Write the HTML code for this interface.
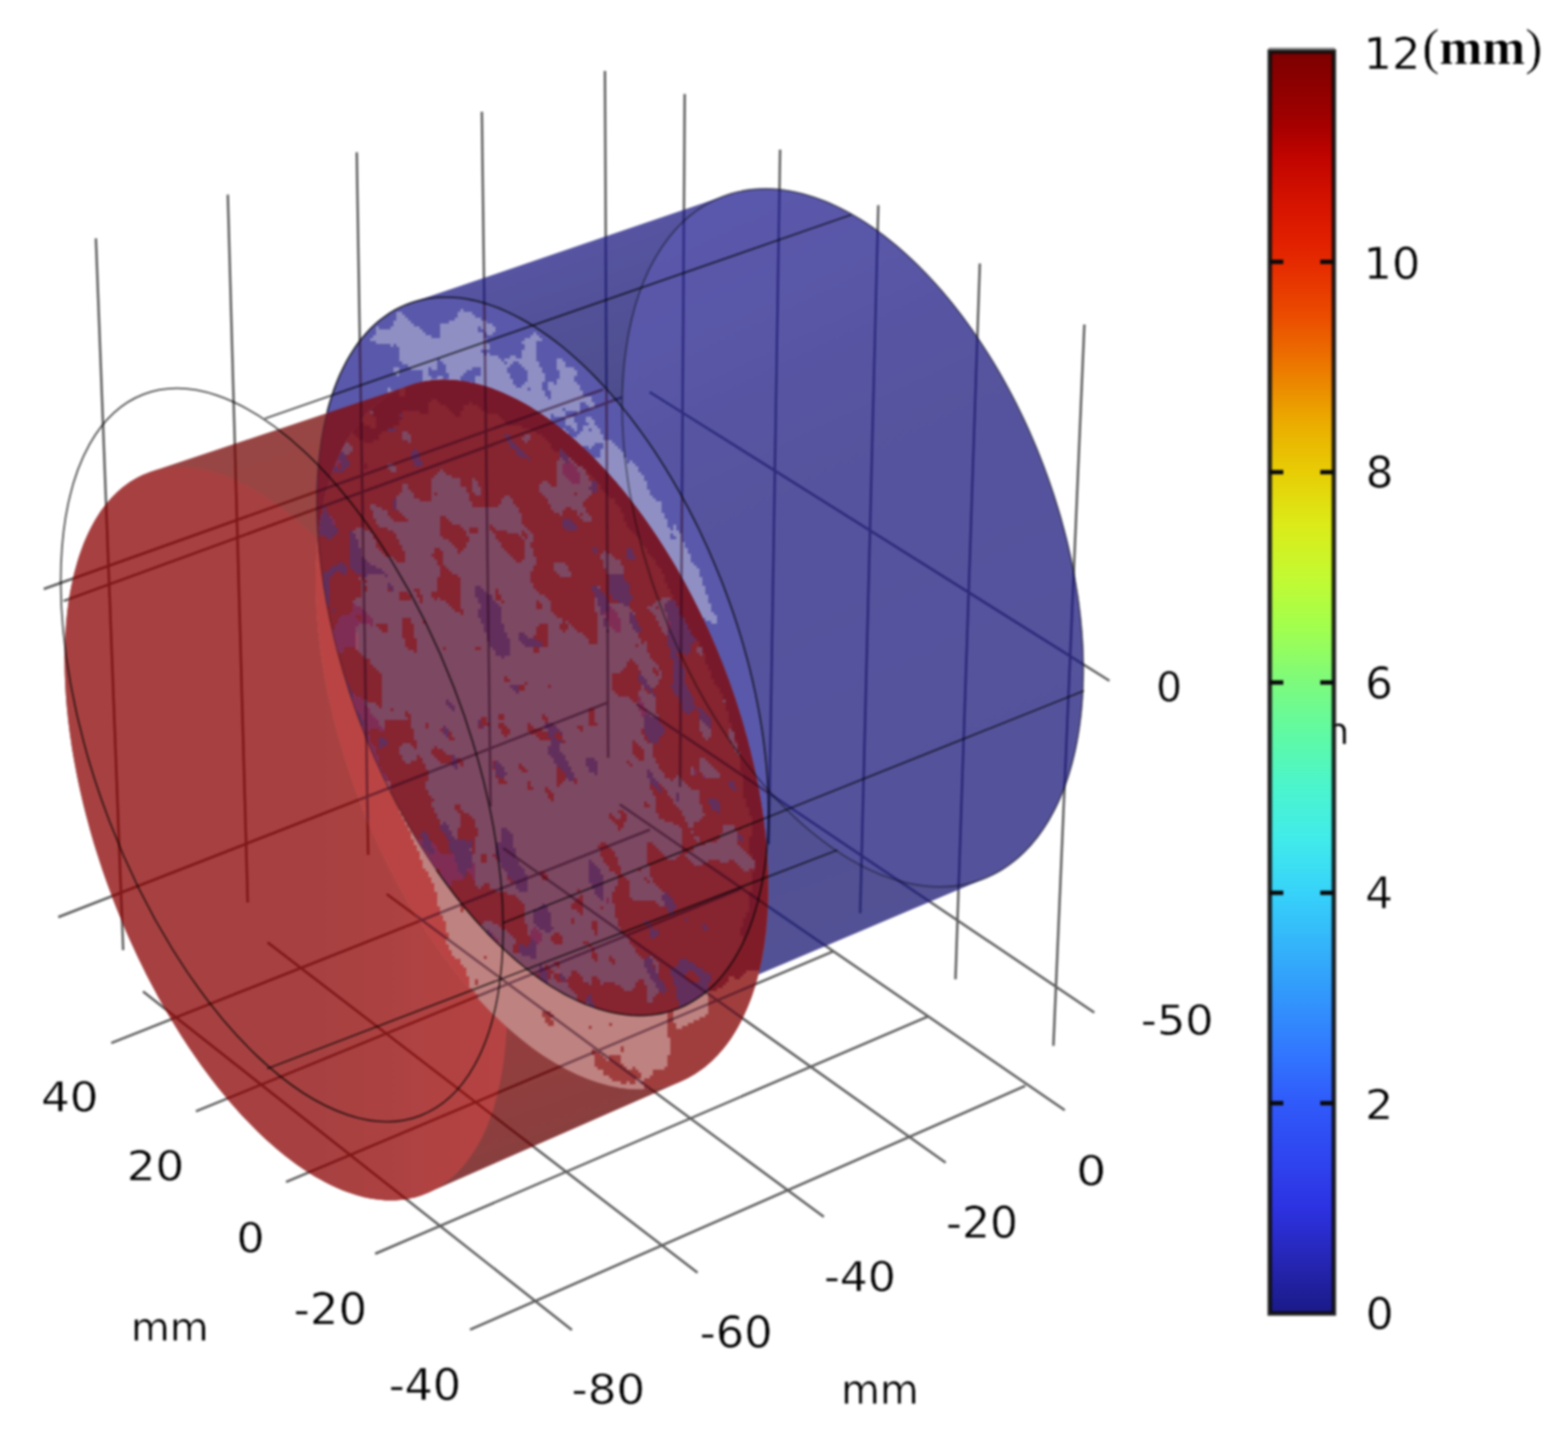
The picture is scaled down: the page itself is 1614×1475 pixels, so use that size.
<!DOCTYPE html>
<html lang="en"><head><meta charset="utf-8"><title>Displacement plot</title>
<style>html,body{margin:0;padding:0;background:#fff}svg{display:block}</style>
</head><body>
<svg width="1614" height="1475" viewBox="0 0 1614 1475">
<defs>
<clipPath id="cEb"><ellipse cx="558.5" cy="675.6" rx="388.4" ry="199.8" transform="rotate(-110.90 558.5 675.6)" /></clipPath>
<clipPath id="cEr"><ellipse cx="557.8" cy="756.2" rx="384.5" ry="199.7" transform="rotate(-111.40 557.8 756.2)" /></clipPath>
<clipPath id="cRed"><path d="M66.5,677.5 L66.6,671.7 L66.7,666.0 L66.9,660.4 L67.2,654.8 L67.5,649.3 L67.9,643.8 L68.4,638.4 L68.9,633.1 L69.5,627.9 L70.2,622.7 L70.9,617.6 L71.7,612.5 L72.6,607.6 L73.5,602.7 L74.6,597.9 L75.6,593.1 L76.8,588.5 L78.0,583.9 L79.3,579.4 L80.6,575.0 L82.0,570.7 L83.5,566.5 L85.0,562.4 L86.6,558.3 L88.3,554.4 L90.0,550.5 L91.8,546.7 L93.7,543.0 L95.6,539.5 L97.5,536.0 L99.6,532.6 L101.7,529.3 L103.8,526.1 L106.0,523.1 L108.3,520.1 L110.6,517.2 L113.0,514.4 L115.4,511.8 L117.9,509.2 L120.4,506.7 L123.0,504.4 L125.7,502.1 L128.4,500.0 L131.1,498.0 L133.9,496.1 L136.8,494.3 L139.7,492.6 L142.6,491.0 L145.6,489.5 L148.6,488.2 L151.7,486.9 L154.8,485.8 L424.1,395.9 L427.4,394.9 L430.8,394.0 L434.2,393.2 L437.7,392.6 L441.2,392.0 L444.7,391.6 L448.3,391.2 L451.9,391.0 L455.6,390.9 L459.2,390.9 L462.9,391.0 L466.7,391.2 L470.4,391.5 L474.2,392.0 L478.0,392.5 L481.8,393.2 L485.7,394.0 L489.6,394.9 L493.5,395.9 L497.4,397.0 L501.3,398.2 L505.3,399.5 L509.2,401.0 L513.2,402.5 L517.2,404.1 L521.2,405.9 L525.2,407.8 L529.3,409.7 L533.3,411.8 L537.4,414.0 L541.4,416.3 L545.5,418.7 L549.5,421.2 L553.6,423.7 L557.7,426.4 L561.7,429.2 L565.8,432.1 L569.8,435.1 L573.9,438.2 L578.0,441.4 L582.0,444.7 L586.0,448.1 L590.1,451.5 L594.1,455.1 L598.1,458.8 L602.1,462.5 L606.1,466.3 L610.1,470.3 L614.0,474.3 L617.9,478.4 L621.9,482.6 L625.8,486.8 L629.6,491.2 L633.5,495.6 L637.3,500.1 L641.1,504.7 L644.9,509.4 L648.7,514.1 L652.4,518.9 L656.1,523.8 L659.8,528.8 L663.4,533.8 L667.0,538.9 L670.6,544.0 L674.1,549.2 L677.6,554.5 L681.1,559.9 L684.5,565.3 L687.9,570.8 L691.3,576.3 L694.6,581.9 L697.9,587.5 L701.1,593.2 L704.3,598.9 L707.4,604.7 L710.5,610.5 L713.5,616.4 L716.5,622.3 L719.5,628.2 L722.4,634.2 L725.2,640.2 L728.0,646.3 L730.8,652.4 L733.5,658.5 L736.1,664.7 L738.7,670.9 L741.3,677.1 L743.7,683.3 L746.2,689.6 L748.5,695.9 L750.8,702.2 L753.1,708.5 L755.3,714.8 L757.4,721.2 L759.4,727.5 L761.4,733.9 L763.4,740.2 L765.3,746.6 L767.1,753.0 L768.8,759.4 L770.5,765.7 L772.1,772.1 L773.7,778.5 L775.2,784.8 L776.6,791.2 L778.0,797.5 L779.3,803.9 L780.5,810.2 L781.7,816.5 L782.7,822.7 L783.8,829.0 L784.7,835.2 L785.6,841.5 L786.4,847.6 L787.2,853.8 L787.8,859.9 L788.4,866.0 L789.0,872.1 L789.4,878.1 L789.8,884.1 L790.1,890.1 L790.4,896.0 L790.6,901.8 L790.7,907.7 L790.7,913.5 L790.7,919.2 L790.6,924.9 L790.4,930.5 L790.2,936.1 L789.9,941.6 L789.5,947.1 L789.0,952.5 L788.5,957.8 L787.9,963.1 L787.2,968.3 L786.5,973.5 L785.7,978.6 L784.8,983.6 L783.8,988.6 L782.8,993.4 L781.7,998.3 L780.6,1003.0 L779.4,1007.7 L778.1,1012.2 L776.7,1016.8 L775.3,1021.2 L773.8,1025.5 L772.3,1029.8 L770.6,1034.0 L769.0,1038.1 L767.2,1042.1 L765.4,1046.0 L763.5,1049.9 L761.6,1053.6 L759.6,1057.3 L757.5,1060.8 L755.4,1064.3 L753.2,1067.7 L751.0,1071.0 L748.7,1074.2 L746.3,1077.2 L743.9,1080.2 L741.4,1083.1 L738.9,1085.9 L736.3,1088.6 L733.7,1091.2 L731.0,1093.7 L728.3,1096.1 L725.5,1098.4 L722.6,1100.6 L719.7,1102.6 L716.8,1104.6 L713.8,1106.5 L710.7,1108.2 L707.6,1109.9 L704.5,1111.4 L701.3,1112.9 L439.8,1228.0 L436.7,1229.3 L433.6,1230.4 L430.4,1231.4 L427.2,1232.4 L424.0,1233.1 L420.7,1233.8 L417.3,1234.4 L414.0,1234.8 L410.6,1235.2 L407.2,1235.4 L403.7,1235.5 L400.2,1235.5 L396.7,1235.4 L393.1,1235.1 L389.5,1234.8 L385.9,1234.3 L382.2,1233.7 L378.5,1233.0 L374.8,1232.2 L371.1,1231.3 L367.4,1230.2 L363.6,1229.1 L359.8,1227.8 L356.0,1226.4 L352.1,1224.9 L348.3,1223.3 L344.4,1221.6 L340.5,1219.8 L336.6,1217.8 L332.7,1215.8 L328.8,1213.6 L324.9,1211.4 L320.9,1209.0 L317.0,1206.5 L313.0,1203.9 L309.1,1201.3 L305.1,1198.5 L301.1,1195.6 L297.2,1192.6 L293.2,1189.5 L289.2,1186.3 L285.2,1183.0 L281.3,1179.6 L277.3,1176.1 L273.3,1172.5 L269.4,1168.8 L265.4,1165.0 L261.5,1161.1 L257.6,1157.1 L253.7,1153.1 L249.8,1148.9 L245.9,1144.7 L242.0,1140.3 L238.1,1135.9 L234.3,1131.4 L230.5,1126.8 L226.7,1122.2 L222.9,1117.4 L219.1,1112.6 L215.4,1107.7 L211.7,1102.7 L208.0,1097.7 L204.3,1092.5 L200.7,1087.3 L197.1,1082.1 L193.5,1076.7 L189.9,1071.3 L186.4,1065.9 L182.9,1060.3 L179.5,1054.8 L176.1,1049.1 L172.7,1043.4 L169.4,1037.6 L166.1,1031.8 L162.8,1025.9 L159.6,1020.0 L156.4,1014.0 L153.2,1008.0 L150.1,1001.9 L147.1,995.8 L144.1,989.7 L141.1,983.5 L138.2,977.3 L135.3,971.0 L132.5,964.7 L129.7,958.4 L127.0,952.0 L124.3,945.6 L121.7,939.2 L119.1,932.7 L116.6,926.3 L114.2,919.8 L111.8,913.3 L109.4,906.7 L107.1,900.2 L104.9,893.7 L102.7,887.1 L100.6,880.5 L98.5,873.9 L96.5,867.4 L94.6,860.8 L92.7,854.2 L90.9,847.6 L89.1,841.0 L87.4,834.4 L85.8,827.9 L84.2,821.3 L82.7,814.8 L81.3,808.2 L79.9,801.7 L78.6,795.2 L77.4,788.7 L76.2,782.2 L75.1,775.8 L74.0,769.4 L73.1,763.0 L72.1,756.6 L71.3,750.3 L70.5,744.0 L69.8,737.8 L69.2,731.5 L68.6,725.3 L68.1,719.2 L67.7,713.1 L67.3,707.0 L67.0,701.0 L66.8,695.1 L66.6,689.1 L66.6,683.3Z"/></clipPath>
<clipPath id="cErf"><ellipse cx="294.2" cy="858.1" rx="397.6" ry="190.2" transform="rotate(-111.00 294.2 858.1)" /></clipPath>
<clipPath id="cBlue"><path d="M326.0,514.2 L326.1,508.4 L326.2,502.6 L326.5,497.0 L326.7,491.3 L327.1,485.8 L327.5,480.3 L328.0,474.8 L328.5,469.4 L329.2,464.1 L329.9,458.8 L330.6,453.6 L331.5,448.5 L332.4,443.5 L333.4,438.5 L334.4,433.6 L335.5,428.7 L336.7,423.9 L337.9,419.3 L339.3,414.6 L340.6,410.1 L342.1,405.7 L343.6,401.3 L345.2,397.0 L346.8,392.8 L348.5,388.7 L350.3,384.7 L352.1,380.7 L354.0,376.9 L356.0,373.1 L358.0,369.4 L360.1,365.9 L362.3,362.4 L364.5,359.0 L366.7,355.7 L369.0,352.5 L371.4,349.4 L373.9,346.5 L376.4,343.6 L378.9,340.8 L381.5,338.1 L384.2,335.5 L386.9,333.0 L389.6,330.6 L392.4,328.4 L395.3,326.2 L398.2,324.1 L401.2,322.2 L404.2,320.3 L407.3,318.6 L410.4,317.0 L413.5,315.5 L416.7,314.1 L419.9,312.8 L423.2,311.6 L747.7,200.9 L751.2,199.7 L754.7,198.7 L758.3,197.8 L761.9,196.9 L765.5,196.2 L769.2,195.6 L772.9,195.1 L776.6,194.8 L780.4,194.5 L784.2,194.3 L788.0,194.3 L791.9,194.3 L795.7,194.5 L799.6,194.8 L803.6,195.2 L807.5,195.7 L811.5,196.3 L815.5,197.0 L819.5,197.8 L823.5,198.7 L827.5,199.8 L831.6,200.9 L835.7,202.2 L839.8,203.5 L843.9,205.0 L848.0,206.6 L852.1,208.2 L856.2,210.0 L860.3,211.9 L864.5,213.9 L868.6,216.0 L872.7,218.2 L876.9,220.5 L881.0,222.9 L885.2,225.4 L889.3,228.0 L893.4,230.7 L897.6,233.5 L901.7,236.4 L905.8,239.4 L909.9,242.5 L914.0,245.7 L918.1,249.0 L922.2,252.3 L926.3,255.8 L930.3,259.3 L934.3,263.0 L938.4,266.7 L942.4,270.5 L946.3,274.4 L950.3,278.4 L954.2,282.5 L958.1,286.7 L962.0,290.9 L965.9,295.2 L969.7,299.6 L973.5,304.1 L977.3,308.6 L981.1,313.3 L984.8,318.0 L988.5,322.7 L992.1,327.6 L995.7,332.5 L999.3,337.5 L1002.8,342.5 L1006.3,347.6 L1009.8,352.8 L1013.2,358.0 L1016.6,363.3 L1019.9,368.7 L1023.2,374.1 L1026.5,379.5 L1029.7,385.0 L1032.9,390.6 L1036.0,396.2 L1039.0,401.9 L1042.1,407.6 L1045.0,413.3 L1047.9,419.1 L1050.8,425.0 L1053.6,430.8 L1056.4,436.7 L1059.1,442.7 L1061.7,448.7 L1064.3,454.7 L1066.9,460.7 L1069.3,466.8 L1071.8,472.9 L1074.1,479.0 L1076.4,485.2 L1078.7,491.3 L1080.8,497.5 L1082.9,503.7 L1085.0,509.9 L1087.0,516.2 L1088.9,522.4 L1090.8,528.7 L1092.6,534.9 L1094.3,541.2 L1096.0,547.5 L1097.6,553.7 L1099.1,560.0 L1100.6,566.3 L1102.0,572.5 L1103.3,578.8 L1104.6,585.1 L1105.8,591.3 L1106.9,597.5 L1107.9,603.7 L1108.9,609.9 L1109.8,616.1 L1110.7,622.3 L1111.4,628.4 L1112.1,634.6 L1112.8,640.7 L1113.3,646.7 L1113.8,652.8 L1114.2,658.8 L1114.6,664.8 L1114.8,670.7 L1115.0,676.6 L1115.2,682.5 L1115.2,688.3 L1115.2,694.1 L1115.1,699.9 L1114.9,705.6 L1114.7,711.2 L1114.4,716.8 L1114.0,722.4 L1113.6,727.9 L1113.0,733.4 L1112.4,738.8 L1111.8,744.1 L1111.0,749.4 L1110.2,754.6 L1109.3,759.8 L1108.4,764.9 L1107.4,770.0 L1106.3,774.9 L1105.1,779.8 L1103.9,784.7 L1102.6,789.4 L1101.2,794.1 L1099.8,798.8 L1098.3,803.3 L1096.7,807.8 L1095.1,812.2 L1093.4,816.5 L1091.6,820.7 L1089.8,824.9 L1087.9,828.9 L1085.9,832.9 L1083.9,836.8 L1081.8,840.6 L1079.6,844.4 L1077.4,848.0 L1075.1,851.6 L1072.8,855.0 L1070.4,858.4 L1068.0,861.7 L1065.4,864.8 L1062.9,867.9 L1060.3,870.9 L1057.6,873.8 L1054.8,876.6 L1052.1,879.3 L1049.2,881.9 L1046.3,884.4 L1043.4,886.8 L1040.4,889.1 L1037.3,891.3 L1034.2,893.4 L1031.1,895.4 L1027.9,897.3 L1024.7,899.0 L1021.4,900.7 L1018.1,902.3 L1014.7,903.7 L700.3,1037.1 L697.1,1038.4 L693.8,1039.6 L690.5,1040.7 L687.1,1041.7 L683.7,1042.5 L680.3,1043.3 L676.8,1043.9 L673.3,1044.4 L669.7,1044.8 L666.2,1045.1 L662.5,1045.3 L658.9,1045.4 L655.2,1045.3 L651.5,1045.2 L647.8,1044.9 L644.0,1044.5 L640.2,1044.0 L636.4,1043.4 L632.6,1042.7 L628.7,1041.9 L624.9,1040.9 L621.0,1039.9 L617.0,1038.7 L613.1,1037.5 L609.2,1036.1 L605.2,1034.6 L601.2,1033.0 L597.2,1031.3 L593.2,1029.4 L589.2,1027.5 L585.2,1025.5 L581.1,1023.3 L577.1,1021.1 L573.0,1018.7 L569.0,1016.3 L564.9,1013.7 L560.9,1011.0 L556.8,1008.3 L552.8,1005.4 L548.7,1002.4 L544.7,999.4 L540.6,996.2 L536.6,992.9 L532.5,989.6 L528.5,986.1 L524.5,982.6 L520.5,978.9 L516.5,975.2 L512.5,971.4 L508.5,967.4 L504.6,963.4 L500.6,959.3 L496.7,955.2 L492.8,950.9 L488.9,946.5 L485.1,942.1 L481.2,937.6 L477.4,933.0 L473.6,928.3 L469.9,923.6 L466.1,918.7 L462.4,913.9 L458.7,908.9 L455.1,903.8 L451.5,898.7 L447.9,893.5 L444.3,888.3 L440.8,883.0 L437.3,877.6 L433.9,872.2 L430.5,866.7 L427.1,861.1 L423.8,855.5 L420.5,849.8 L417.3,844.1 L414.1,838.4 L410.9,832.5 L407.8,826.7 L404.7,820.8 L401.7,814.8 L398.7,808.8 L395.8,802.8 L392.9,796.7 L390.1,790.6 L387.4,784.4 L384.6,778.2 L382.0,772.0 L379.4,765.8 L376.8,759.5 L374.3,753.2 L371.8,746.9 L369.5,740.5 L367.1,734.2 L364.9,727.8 L362.6,721.4 L360.5,715.0 L358.4,708.6 L356.4,702.1 L354.4,695.7 L352.5,689.2 L350.6,682.8 L348.8,676.3 L347.1,669.9 L345.5,663.4 L343.9,657.0 L342.3,650.5 L340.9,644.1 L339.5,637.7 L338.2,631.3 L336.9,624.9 L335.7,618.5 L334.6,612.1 L333.5,605.8 L332.5,599.4 L331.6,593.1 L330.8,586.9 L330.0,580.6 L329.3,574.4 L328.6,568.2 L328.1,562.0 L327.6,555.9 L327.1,549.8 L326.8,543.8 L326.5,537.8 L326.3,531.8 L326.1,525.9 L326.1,520.0Z"/></clipPath>
<linearGradient id="gBlue" gradientUnits="userSpaceOnUse" x1="740" y1="230" x2="1040" y2="860"><stop offset="0" stop-color="rgb(45,42,149)"/><stop offset="0.35" stop-color="rgb(40,37,133)"/><stop offset="1" stop-color="rgb(37,34,127)"/></linearGradient><linearGradient id="gBlueWall" gradientUnits="userSpaceOnUse" x1="449" y1="305" x2="701.2" y2="1023.6"><stop offset="0" stop-color="rgb(40,38,136)"/><stop offset="0.06" stop-color="rgb(36,34,127)"/><stop offset="0.21" stop-color="rgb(28,28,110)"/><stop offset="0.8" stop-color="rgb(33,32,118)"/><stop offset="1" stop-color="rgb(36,33,120)"/></linearGradient><linearGradient id="gRed" gradientUnits="userSpaceOnUse" x1="330" y1="0" x2="525" y2="0"><stop offset="0" stop-color="rgb(143,13,13)"/><stop offset="1" stop-color="rgb(163,15,15)"/></linearGradient><linearGradient id="gWall" gradientUnits="userSpaceOnUse" x1="300" y1="450" x2="560" y2="1180"><stop offset="0" stop-color="rgb(124,19,17)"/><stop offset="0.3" stop-color="rgb(126,15,13)"/><stop offset="0.75" stop-color="rgb(128,8,8)"/><stop offset="1" stop-color="rgb(105,10,10)"/></linearGradient><linearGradient id="gDred" gradientUnits="userSpaceOnUse" x1="400" y1="0" x2="800" y2="0"><stop offset="0" stop-color="rgb(140,40,70)"/><stop offset="0.15" stop-color="rgb(165,62,62)"/><stop offset="0.75" stop-color="rgb(160,60,60)"/><stop offset="0.9" stop-color="rgb(128,28,40)"/></linearGradient>
<filter id="soft" filterUnits="userSpaceOnUse" x="0" y="0" width="1614" height="1475" color-interpolation-filters="sRGB"><feGaussianBlur stdDeviation="0.9"/></filter>
</defs>
<rect width="1614" height="1475" fill="#fff"/>
<g filter="url(#soft)">
<rect width="1614" height="1475" fill="#fff"/>
<path d="M98.7,245.4 L126.8,978 M234.5,200.4 L255,929 M367.2,156.8 L379,880 M496,115 L505,830 M622.7,73 L626,780 M704.8,96.8 L700,810 M803,154 L791.3,869 M904.1,211.2 L885.4,940 M1008.6,271.2 L983.5,1008 M1116.2,334 L1084.3,1076.5 M45,606.3 L621,400.7 M60,944 L626,723 M668.6,403.5 L1142,700.8 M655,724.5 L1126.4,1042.2 M114.5,1073.6 L669,854 M201.7,1143.9 L762,915 M294.4,1216.7 L857.4,979.4 M386.2,1290.5 L955,1046.3 M483.8,1368.6 L1055.4,1117.7 M147.2,1020.4 L588.7,1369 M275.4,970 L718,1310 M398,920.3 L848,1252.6 M518,873 L973.4,1196.8 M638,828 L1096,1142.8 M65.4,618.6 L640,409" stroke="#5e5e5e" stroke-width="2.5" fill="none"/>
<g opacity="0.78">
<path d="M326.0,514.2 L326.1,508.4 L326.2,502.6 L326.5,497.0 L326.7,491.3 L327.1,485.8 L327.5,480.3 L328.0,474.8 L328.5,469.4 L329.2,464.1 L329.9,458.8 L330.6,453.6 L331.5,448.5 L332.4,443.5 L333.4,438.5 L334.4,433.6 L335.5,428.7 L336.7,423.9 L337.9,419.3 L339.3,414.6 L340.6,410.1 L342.1,405.7 L343.6,401.3 L345.2,397.0 L346.8,392.8 L348.5,388.7 L350.3,384.7 L352.1,380.7 L354.0,376.9 L356.0,373.1 L358.0,369.4 L360.1,365.9 L362.3,362.4 L364.5,359.0 L366.7,355.7 L369.0,352.5 L371.4,349.4 L373.9,346.5 L376.4,343.6 L378.9,340.8 L381.5,338.1 L384.2,335.5 L386.9,333.0 L389.6,330.6 L392.4,328.4 L395.3,326.2 L398.2,324.1 L401.2,322.2 L404.2,320.3 L407.3,318.6 L410.4,317.0 L413.5,315.5 L416.7,314.1 L419.9,312.8 L423.2,311.6 L747.7,200.9 L751.2,199.7 L754.7,198.7 L758.3,197.8 L761.9,196.9 L765.5,196.2 L769.2,195.6 L772.9,195.1 L776.6,194.8 L780.4,194.5 L784.2,194.3 L788.0,194.3 L791.9,194.3 L795.7,194.5 L799.6,194.8 L803.6,195.2 L807.5,195.7 L811.5,196.3 L815.5,197.0 L819.5,197.8 L823.5,198.7 L827.5,199.8 L831.6,200.9 L835.7,202.2 L839.8,203.5 L843.9,205.0 L848.0,206.6 L852.1,208.2 L856.2,210.0 L860.3,211.9 L864.5,213.9 L868.6,216.0 L872.7,218.2 L876.9,220.5 L881.0,222.9 L885.2,225.4 L889.3,228.0 L893.4,230.7 L897.6,233.5 L901.7,236.4 L905.8,239.4 L909.9,242.5 L914.0,245.7 L918.1,249.0 L922.2,252.3 L926.3,255.8 L930.3,259.3 L934.3,263.0 L938.4,266.7 L942.4,270.5 L946.3,274.4 L950.3,278.4 L954.2,282.5 L958.1,286.7 L962.0,290.9 L965.9,295.2 L969.7,299.6 L973.5,304.1 L977.3,308.6 L981.1,313.3 L984.8,318.0 L988.5,322.7 L992.1,327.6 L995.7,332.5 L999.3,337.5 L1002.8,342.5 L1006.3,347.6 L1009.8,352.8 L1013.2,358.0 L1016.6,363.3 L1019.9,368.7 L1023.2,374.1 L1026.5,379.5 L1029.7,385.0 L1032.9,390.6 L1036.0,396.2 L1039.0,401.9 L1042.1,407.6 L1045.0,413.3 L1047.9,419.1 L1050.8,425.0 L1053.6,430.8 L1056.4,436.7 L1059.1,442.7 L1061.7,448.7 L1064.3,454.7 L1066.9,460.7 L1069.3,466.8 L1071.8,472.9 L1074.1,479.0 L1076.4,485.2 L1078.7,491.3 L1080.8,497.5 L1082.9,503.7 L1085.0,509.9 L1087.0,516.2 L1088.9,522.4 L1090.8,528.7 L1092.6,534.9 L1094.3,541.2 L1096.0,547.5 L1097.6,553.7 L1099.1,560.0 L1100.6,566.3 L1102.0,572.5 L1103.3,578.8 L1104.6,585.1 L1105.8,591.3 L1106.9,597.5 L1107.9,603.7 L1108.9,609.9 L1109.8,616.1 L1110.7,622.3 L1111.4,628.4 L1112.1,634.6 L1112.8,640.7 L1113.3,646.7 L1113.8,652.8 L1114.2,658.8 L1114.6,664.8 L1114.8,670.7 L1115.0,676.6 L1115.2,682.5 L1115.2,688.3 L1115.2,694.1 L1115.1,699.9 L1114.9,705.6 L1114.7,711.2 L1114.4,716.8 L1114.0,722.4 L1113.6,727.9 L1113.0,733.4 L1112.4,738.8 L1111.8,744.1 L1111.0,749.4 L1110.2,754.6 L1109.3,759.8 L1108.4,764.9 L1107.4,770.0 L1106.3,774.9 L1105.1,779.8 L1103.9,784.7 L1102.6,789.4 L1101.2,794.1 L1099.8,798.8 L1098.3,803.3 L1096.7,807.8 L1095.1,812.2 L1093.4,816.5 L1091.6,820.7 L1089.8,824.9 L1087.9,828.9 L1085.9,832.9 L1083.9,836.8 L1081.8,840.6 L1079.6,844.4 L1077.4,848.0 L1075.1,851.6 L1072.8,855.0 L1070.4,858.4 L1068.0,861.7 L1065.4,864.8 L1062.9,867.9 L1060.3,870.9 L1057.6,873.8 L1054.8,876.6 L1052.1,879.3 L1049.2,881.9 L1046.3,884.4 L1043.4,886.8 L1040.4,889.1 L1037.3,891.3 L1034.2,893.4 L1031.1,895.4 L1027.9,897.3 L1024.7,899.0 L1021.4,900.7 L1018.1,902.3 L1014.7,903.7 L700.3,1037.1 L697.1,1038.4 L693.8,1039.6 L690.5,1040.7 L687.1,1041.7 L683.7,1042.5 L680.3,1043.3 L676.8,1043.9 L673.3,1044.4 L669.7,1044.8 L666.2,1045.1 L662.5,1045.3 L658.9,1045.4 L655.2,1045.3 L651.5,1045.2 L647.8,1044.9 L644.0,1044.5 L640.2,1044.0 L636.4,1043.4 L632.6,1042.7 L628.7,1041.9 L624.9,1040.9 L621.0,1039.9 L617.0,1038.7 L613.1,1037.5 L609.2,1036.1 L605.2,1034.6 L601.2,1033.0 L597.2,1031.3 L593.2,1029.4 L589.2,1027.5 L585.2,1025.5 L581.1,1023.3 L577.1,1021.1 L573.0,1018.7 L569.0,1016.3 L564.9,1013.7 L560.9,1011.0 L556.8,1008.3 L552.8,1005.4 L548.7,1002.4 L544.7,999.4 L540.6,996.2 L536.6,992.9 L532.5,989.6 L528.5,986.1 L524.5,982.6 L520.5,978.9 L516.5,975.2 L512.5,971.4 L508.5,967.4 L504.6,963.4 L500.6,959.3 L496.7,955.2 L492.8,950.9 L488.9,946.5 L485.1,942.1 L481.2,937.6 L477.4,933.0 L473.6,928.3 L469.9,923.6 L466.1,918.7 L462.4,913.9 L458.7,908.9 L455.1,903.8 L451.5,898.7 L447.9,893.5 L444.3,888.3 L440.8,883.0 L437.3,877.6 L433.9,872.2 L430.5,866.7 L427.1,861.1 L423.8,855.5 L420.5,849.8 L417.3,844.1 L414.1,838.4 L410.9,832.5 L407.8,826.7 L404.7,820.8 L401.7,814.8 L398.7,808.8 L395.8,802.8 L392.9,796.7 L390.1,790.6 L387.4,784.4 L384.6,778.2 L382.0,772.0 L379.4,765.8 L376.8,759.5 L374.3,753.2 L371.8,746.9 L369.5,740.5 L367.1,734.2 L364.9,727.8 L362.6,721.4 L360.5,715.0 L358.4,708.6 L356.4,702.1 L354.4,695.7 L352.5,689.2 L350.6,682.8 L348.8,676.3 L347.1,669.9 L345.5,663.4 L343.9,657.0 L342.3,650.5 L340.9,644.1 L339.5,637.7 L338.2,631.3 L336.9,624.9 L335.7,618.5 L334.6,612.1 L333.5,605.8 L332.5,599.4 L331.6,593.1 L330.8,586.9 L330.0,580.6 L329.3,574.4 L328.6,568.2 L328.1,562.0 L327.6,555.9 L327.1,549.8 L326.8,543.8 L326.5,537.8 L326.3,531.8 L326.1,525.9 L326.1,520.0Z" fill="url(#gBlueWall)"/>
<path d="M744.3,202.1 L749.5,200.3 L754.7,198.7 L760.1,197.3 L765.5,196.2 L771.0,195.4 L776.6,194.8 L782.3,194.4 L788.0,194.3 L793.8,194.4 L799.6,194.8 L805.5,195.4 L811.5,196.3 L817.5,197.4 L823.5,198.7 L829.6,200.3 L835.7,202.2 L841.8,204.2 L848.0,206.6 L854.1,209.1 L860.3,211.9 L866.5,214.9 L872.7,218.2 L879.0,221.7 L885.2,225.4 L891.4,229.3 L897.6,233.5 L903.8,237.9 L909.9,242.5 L916.1,247.3 L922.2,252.3 L928.3,257.6 L934.3,263.0 L940.4,268.6 L946.3,274.4 L952.3,280.5 L958.1,286.7 L964.0,293.1 L969.7,299.6 L975.4,306.4 L981.1,313.3 L986.6,320.3 L992.1,327.6 L997.5,335.0 L1002.8,342.5 L1008.1,350.2 L1013.2,358.0 L1018.3,366.0 L1023.2,374.1 L1028.1,382.3 L1032.9,390.6 L1037.5,399.0 L1042.1,407.6 L1046.5,416.2 L1050.8,425.0 L1055.0,433.8 L1059.1,442.7 L1063.0,451.7 L1066.9,460.7 L1070.6,469.9 L1074.1,479.0 L1077.5,488.3 L1080.8,497.5 L1084.0,506.8 L1087.0,516.2 L1089.9,525.5 L1092.6,534.9 L1095.2,544.3 L1097.6,553.7 L1099.9,563.1 L1102.0,572.5 L1104.0,581.9 L1105.8,591.3 L1107.4,600.6 L1108.9,609.9 L1110.3,619.2 L1111.4,628.4 L1112.5,637.6 L1113.3,646.7 L1114.0,655.8 L1114.6,664.8 L1114.9,673.7 L1115.2,682.5 L1115.2,691.2 L1115.1,699.9 L1114.8,708.4 L1114.4,716.8 L1113.8,725.2 L1113.0,733.4 L1112.1,741.5 L1111.0,749.4 L1109.8,757.2 L1108.4,764.9 L1106.8,772.4 L1105.1,779.8 L1103.2,787.1 L1101.2,794.1 L1099.0,801.0 L1096.7,807.8 L1094.2,814.3 L1091.6,820.7 L1088.8,826.9 L1085.9,832.9 L1082.8,838.7 L1079.6,844.4 L1076.3,849.8 L1072.8,855.0 L1069.2,860.0 L1065.4,864.8 L1061.6,869.4 L1057.6,873.8 L1053.5,878.0 L1049.2,881.9 L1044.9,885.6 L1040.4,889.1 L1035.8,892.4 L1031.1,895.4 L1026.3,898.2 L1021.4,900.7 L1016.4,903.0 L1011.3,905.1 L1006.1,906.9 L1000.9,908.5 L995.5,909.9 L990.1,911.0 L984.6,911.8 L979.0,912.4 L973.3,912.8 L967.6,912.9 L961.8,912.8 L956.0,912.4 L950.1,911.8 L944.1,910.9 L938.1,909.8 L932.1,908.5 L926.0,906.9 L919.9,905.0 L913.8,903.0 L907.6,900.6 L901.5,898.1 L895.3,895.3 L889.1,892.3 L882.9,889.0 L876.6,885.5 L870.4,881.8 L864.2,877.9 L858.0,873.7 L851.8,869.3 L845.7,864.7 L839.5,859.9 L833.4,854.9 L827.3,849.6 L821.3,844.2 L815.2,838.6 L809.3,832.8 L803.3,826.7 L797.5,820.5 L791.6,814.1 L785.9,807.6 L780.2,800.8 L774.5,793.9 L769.0,786.9 L763.5,779.6 L758.1,772.2 L752.8,764.7 L747.5,757.0 L742.4,749.2 L737.3,741.2 L732.4,733.1 L727.5,724.9 L722.7,716.6 L718.1,708.2 L713.5,699.6 L709.1,691.0 L704.8,682.2 L700.6,673.4 L696.5,664.5 L692.6,655.5 L688.7,646.5 L685.0,637.3 L681.5,628.2 L678.1,618.9 L674.8,609.7 L671.6,600.4 L668.6,591.0 L665.7,581.7 L663.0,572.3 L660.4,562.9 L658.0,553.5 L655.7,544.1 L653.6,534.7 L651.6,525.3 L649.8,515.9 L648.2,506.6 L646.7,497.3 L645.3,488.0 L644.2,478.8 L643.1,469.6 L642.3,460.5 L641.6,451.4 L641.0,442.4 L640.7,433.5 L640.4,424.7 L640.4,416.0 L640.5,407.3 L640.8,398.8 L641.2,390.4 L641.8,382.0 L642.6,373.8 L643.5,365.7 L644.6,357.8 L645.8,350.0 L647.2,342.3 L648.8,334.8 L650.5,327.4 L652.4,320.1 L654.4,313.1 L656.6,306.2 L658.9,299.4 L661.4,292.9 L664.0,286.5 L666.8,280.3 L669.7,274.3 L672.8,268.5 L676.0,262.8 L679.3,257.4 L682.8,252.2 L686.4,247.2 L690.2,242.4 L694.0,237.8 L698.0,233.4 L702.1,229.2 L706.4,225.3 L710.7,221.6 L715.2,218.1 L719.8,214.8 L724.5,211.8 L729.3,209.0 L734.2,206.5 L739.2,204.2Z" fill="url(#gBlue)"/>

<path d="M66.5,677.5 L66.6,671.7 L66.7,666.0 L66.9,660.4 L67.2,654.8 L67.5,649.3 L67.9,643.8 L68.4,638.4 L68.9,633.1 L69.5,627.9 L70.2,622.7 L70.9,617.6 L71.7,612.5 L72.6,607.6 L73.5,602.7 L74.6,597.9 L75.6,593.1 L76.8,588.5 L78.0,583.9 L79.3,579.4 L80.6,575.0 L82.0,570.7 L83.5,566.5 L85.0,562.4 L86.6,558.3 L88.3,554.4 L90.0,550.5 L91.8,546.7 L93.7,543.0 L95.6,539.5 L97.5,536.0 L99.6,532.6 L101.7,529.3 L103.8,526.1 L106.0,523.1 L108.3,520.1 L110.6,517.2 L113.0,514.4 L115.4,511.8 L117.9,509.2 L120.4,506.7 L123.0,504.4 L125.7,502.1 L128.4,500.0 L131.1,498.0 L133.9,496.1 L136.8,494.3 L139.7,492.6 L142.6,491.0 L145.6,489.5 L148.6,488.2 L151.7,486.9 L154.8,485.8 L424.1,395.9 L427.4,394.9 L430.8,394.0 L434.2,393.2 L437.7,392.6 L441.2,392.0 L444.7,391.6 L448.3,391.2 L451.9,391.0 L455.6,390.9 L459.2,390.9 L462.9,391.0 L466.7,391.2 L470.4,391.5 L474.2,392.0 L478.0,392.5 L481.8,393.2 L485.7,394.0 L489.6,394.9 L493.5,395.9 L497.4,397.0 L501.3,398.2 L505.3,399.5 L509.2,401.0 L513.2,402.5 L517.2,404.1 L521.2,405.9 L525.2,407.8 L529.3,409.7 L533.3,411.8 L537.4,414.0 L541.4,416.3 L545.5,418.7 L549.5,421.2 L553.6,423.7 L557.7,426.4 L561.7,429.2 L565.8,432.1 L569.8,435.1 L573.9,438.2 L578.0,441.4 L582.0,444.7 L586.0,448.1 L590.1,451.5 L594.1,455.1 L598.1,458.8 L602.1,462.5 L606.1,466.3 L610.1,470.3 L614.0,474.3 L617.9,478.4 L621.9,482.6 L625.8,486.8 L629.6,491.2 L633.5,495.6 L637.3,500.1 L641.1,504.7 L644.9,509.4 L648.7,514.1 L652.4,518.9 L656.1,523.8 L659.8,528.8 L663.4,533.8 L667.0,538.9 L670.6,544.0 L674.1,549.2 L677.6,554.5 L681.1,559.9 L684.5,565.3 L687.9,570.8 L691.3,576.3 L694.6,581.9 L697.9,587.5 L701.1,593.2 L704.3,598.9 L707.4,604.7 L710.5,610.5 L713.5,616.4 L716.5,622.3 L719.5,628.2 L722.4,634.2 L725.2,640.2 L728.0,646.3 L730.8,652.4 L733.5,658.5 L736.1,664.7 L738.7,670.9 L741.3,677.1 L743.7,683.3 L746.2,689.6 L748.5,695.9 L750.8,702.2 L753.1,708.5 L755.3,714.8 L757.4,721.2 L759.4,727.5 L761.4,733.9 L763.4,740.2 L765.3,746.6 L767.1,753.0 L768.8,759.4 L770.5,765.7 L772.1,772.1 L773.7,778.5 L775.2,784.8 L776.6,791.2 L778.0,797.5 L779.3,803.9 L780.5,810.2 L781.7,816.5 L782.7,822.7 L783.8,829.0 L784.7,835.2 L785.6,841.5 L786.4,847.6 L787.2,853.8 L787.8,859.9 L788.4,866.0 L789.0,872.1 L789.4,878.1 L789.8,884.1 L790.1,890.1 L790.4,896.0 L790.6,901.8 L790.7,907.7 L790.7,913.5 L790.7,919.2 L790.6,924.9 L790.4,930.5 L790.2,936.1 L789.9,941.6 L789.5,947.1 L789.0,952.5 L788.5,957.8 L787.9,963.1 L787.2,968.3 L786.5,973.5 L785.7,978.6 L784.8,983.6 L783.8,988.6 L782.8,993.4 L781.7,998.3 L780.6,1003.0 L779.4,1007.7 L778.1,1012.2 L776.7,1016.8 L775.3,1021.2 L773.8,1025.5 L772.3,1029.8 L770.6,1034.0 L769.0,1038.1 L767.2,1042.1 L765.4,1046.0 L763.5,1049.9 L761.6,1053.6 L759.6,1057.3 L757.5,1060.8 L755.4,1064.3 L753.2,1067.7 L751.0,1071.0 L748.7,1074.2 L746.3,1077.2 L743.9,1080.2 L741.4,1083.1 L738.9,1085.9 L736.3,1088.6 L733.7,1091.2 L731.0,1093.7 L728.3,1096.1 L725.5,1098.4 L722.6,1100.6 L719.7,1102.6 L716.8,1104.6 L713.8,1106.5 L710.7,1108.2 L707.6,1109.9 L704.5,1111.4 L701.3,1112.9 L439.8,1228.0 L436.7,1229.3 L433.6,1230.4 L430.4,1231.4 L427.2,1232.4 L424.0,1233.1 L420.7,1233.8 L417.3,1234.4 L414.0,1234.8 L410.6,1235.2 L407.2,1235.4 L403.7,1235.5 L400.2,1235.5 L396.7,1235.4 L393.1,1235.1 L389.5,1234.8 L385.9,1234.3 L382.2,1233.7 L378.5,1233.0 L374.8,1232.2 L371.1,1231.3 L367.4,1230.2 L363.6,1229.1 L359.8,1227.8 L356.0,1226.4 L352.1,1224.9 L348.3,1223.3 L344.4,1221.6 L340.5,1219.8 L336.6,1217.8 L332.7,1215.8 L328.8,1213.6 L324.9,1211.4 L320.9,1209.0 L317.0,1206.5 L313.0,1203.9 L309.1,1201.3 L305.1,1198.5 L301.1,1195.6 L297.2,1192.6 L293.2,1189.5 L289.2,1186.3 L285.2,1183.0 L281.3,1179.6 L277.3,1176.1 L273.3,1172.5 L269.4,1168.8 L265.4,1165.0 L261.5,1161.1 L257.6,1157.1 L253.7,1153.1 L249.8,1148.9 L245.9,1144.7 L242.0,1140.3 L238.1,1135.9 L234.3,1131.4 L230.5,1126.8 L226.7,1122.2 L222.9,1117.4 L219.1,1112.6 L215.4,1107.7 L211.7,1102.7 L208.0,1097.7 L204.3,1092.5 L200.7,1087.3 L197.1,1082.1 L193.5,1076.7 L189.9,1071.3 L186.4,1065.9 L182.9,1060.3 L179.5,1054.8 L176.1,1049.1 L172.7,1043.4 L169.4,1037.6 L166.1,1031.8 L162.8,1025.9 L159.6,1020.0 L156.4,1014.0 L153.2,1008.0 L150.1,1001.9 L147.1,995.8 L144.1,989.7 L141.1,983.5 L138.2,977.3 L135.3,971.0 L132.5,964.7 L129.7,958.4 L127.0,952.0 L124.3,945.6 L121.7,939.2 L119.1,932.7 L116.6,926.3 L114.2,919.8 L111.8,913.3 L109.4,906.7 L107.1,900.2 L104.9,893.7 L102.7,887.1 L100.6,880.5 L98.5,873.9 L96.5,867.4 L94.6,860.8 L92.7,854.2 L90.9,847.6 L89.1,841.0 L87.4,834.4 L85.8,827.9 L84.2,821.3 L82.7,814.8 L81.3,808.2 L79.9,801.7 L78.6,795.2 L77.4,788.7 L76.2,782.2 L75.1,775.8 L74.0,769.4 L73.1,763.0 L72.1,756.6 L71.3,750.3 L70.5,744.0 L69.8,737.8 L69.2,731.5 L68.6,725.3 L68.1,719.2 L67.7,713.1 L67.3,707.0 L67.0,701.0 L66.8,695.1 L66.6,689.1 L66.6,683.3Z" fill="url(#gWall)"/>
<path d="M151.7,486.9 L156.4,485.3 L161.2,483.8 L166.1,482.7 L171.1,481.8 L176.1,481.2 L181.2,480.8 L186.5,480.7 L191.7,480.8 L197.1,481.3 L202.5,481.9 L208.0,482.8 L213.6,484.0 L219.2,485.4 L224.8,487.1 L230.5,489.1 L236.3,491.3 L242.0,493.7 L247.9,496.4 L253.7,499.4 L259.6,502.6 L265.5,506.0 L271.4,509.7 L277.3,513.6 L283.3,517.7 L289.3,522.1 L295.2,526.7 L301.2,531.6 L307.1,536.6 L313.1,541.9 L319.0,547.4 L324.9,553.1 L330.8,559.1 L336.7,565.2 L342.5,571.5 L348.3,578.1 L354.1,584.8 L359.8,591.7 L365.5,598.8 L371.2,606.0 L376.7,613.5 L382.3,621.1 L387.7,628.9 L393.1,636.8 L398.5,644.9 L403.7,653.1 L408.9,661.4 L414.0,669.9 L419.0,678.6 L424.0,687.3 L428.8,696.2 L433.6,705.2 L438.3,714.3 L442.8,723.4 L447.3,732.7 L451.6,742.1 L455.9,751.5 L460.0,761.0 L464.1,770.6 L468.0,780.2 L471.8,789.9 L475.4,799.7 L479.0,809.5 L482.4,819.3 L485.7,829.1 L488.8,839.0 L491.9,848.8 L494.8,858.7 L497.5,868.6 L500.1,878.5 L502.6,888.3 L504.9,898.2 L507.1,908.0 L509.1,917.8 L511.0,927.5 L512.8,937.2 L514.4,946.8 L515.8,956.4 L517.1,965.9 L518.2,975.3 L519.2,984.7 L520.1,993.9 L520.7,1003.1 L521.2,1012.2 L521.6,1021.1 L521.8,1030.0 L521.9,1038.7 L521.8,1047.3 L521.5,1055.8 L521.1,1064.2 L520.5,1072.4 L519.8,1080.4 L518.9,1088.3 L517.9,1096.1 L516.7,1103.7 L515.3,1111.1 L513.8,1118.3 L512.2,1125.4 L510.4,1132.3 L508.5,1139.0 L506.4,1145.5 L504.1,1151.8 L501.8,1157.9 L499.3,1163.8 L496.6,1169.5 L493.8,1175.0 L490.9,1180.2 L487.8,1185.2 L484.6,1190.1 L481.3,1194.6 L477.8,1199.0 L474.2,1203.1 L470.5,1207.0 L466.7,1210.7 L462.7,1214.1 L458.6,1217.2 L454.5,1220.1 L450.2,1222.8 L445.8,1225.2 L441.3,1227.4 L436.7,1229.3 L432.0,1230.9 L427.2,1232.4 L422.3,1233.5 L417.3,1234.4 L412.3,1235.0 L407.2,1235.4 L401.9,1235.5 L396.7,1235.4 L391.3,1234.9 L385.9,1234.3 L380.4,1233.4 L374.8,1232.2 L369.2,1230.8 L363.6,1229.1 L357.9,1227.1 L352.1,1224.9 L346.4,1222.5 L340.5,1219.8 L334.7,1216.8 L328.8,1213.6 L322.9,1210.2 L317.0,1206.5 L311.1,1202.6 L305.1,1198.5 L299.1,1194.1 L293.2,1189.5 L287.2,1184.6 L281.3,1179.6 L275.3,1174.3 L269.4,1168.8 L263.5,1163.1 L257.6,1157.1 L251.7,1151.0 L245.9,1144.7 L240.1,1138.1 L234.3,1131.4 L228.6,1124.5 L222.9,1117.4 L217.2,1110.2 L211.7,1102.7 L206.1,1095.1 L200.7,1087.3 L195.3,1079.4 L189.9,1071.3 L184.7,1063.1 L179.5,1054.8 L174.4,1046.3 L169.4,1037.6 L164.4,1028.9 L159.6,1020.0 L154.8,1011.0 L150.1,1001.9 L145.6,992.8 L141.1,983.5 L136.8,974.1 L132.5,964.7 L128.4,955.2 L124.3,945.6 L120.4,936.0 L116.6,926.3 L113.0,916.5 L109.4,906.7 L106.0,896.9 L102.7,887.1 L99.6,877.2 L96.5,867.4 L93.6,857.5 L90.9,847.6 L88.3,837.7 L85.8,827.9 L83.5,818.0 L81.3,808.2 L79.3,798.4 L77.4,788.7 L75.6,779.0 L74.0,769.4 L72.6,759.8 L71.3,750.3 L70.2,740.9 L69.2,731.5 L68.3,722.3 L67.7,713.1 L67.2,704.0 L66.8,695.1 L66.6,686.2 L66.5,677.5 L66.6,668.9 L66.9,660.4 L67.3,652.0 L67.9,643.8 L68.6,635.8 L69.5,627.9 L70.5,620.1 L71.7,612.5 L73.1,605.1 L74.6,597.9 L76.2,590.8 L78.0,583.9 L79.9,577.2 L82.0,570.7 L84.3,564.4 L86.6,558.3 L89.1,552.4 L91.8,546.7 L94.6,541.2 L97.5,536.0 L100.6,531.0 L103.8,526.1 L107.1,521.6 L110.6,517.2 L114.2,513.1 L117.9,509.2 L121.7,505.5 L125.7,502.1 L129.8,499.0 L133.9,496.1 L138.2,493.4 L142.6,491.0 L147.1,488.8Z" fill="url(#gRed)"/>

</g>
<g clip-path="url(#cBlue)"><path d="M98.7,245.4 L126.8,978 M234.5,200.4 L255,929 M367.2,156.8 L379,880 M496,115 L505,830 M622.7,73 L626,780 M704.8,96.8 L700,810 M803,154 L791.3,869 M904.1,211.2 L885.4,940 M1008.6,271.2 L983.5,1008 M1116.2,334 L1084.3,1076.5 M45,606.3 L621,400.7 M60,944 L626,723 M668.6,403.5 L1142,700.8 M655,724.5 L1126.4,1042.2 M114.5,1073.6 L669,854 M201.7,1143.9 L762,915 M294.4,1216.7 L857.4,979.4 M386.2,1290.5 L955,1046.3 M483.8,1368.6 L1055.4,1117.7 M147.2,1020.4 L588.7,1369 M275.4,970 L718,1310 M398,920.3 L848,1252.6 M518,873 L973.4,1196.8 M638,828 L1096,1142.8 M65.4,618.6 L640,409" stroke="#15157a" stroke-opacity="0.22" stroke-width="2.5" fill="none"/></g>
<g clip-path="url(#cRed)"><path d="M98.7,245.4 L126.8,978 M234.5,200.4 L255,929 M367.2,156.8 L379,880 M496,115 L505,830 M622.7,73 L626,780 M704.8,96.8 L700,810 M803,154 L791.3,869 M904.1,211.2 L885.4,940 M1008.6,271.2 L983.5,1008 M1116.2,334 L1084.3,1076.5 M45,606.3 L621,400.7 M60,944 L626,723 M668.6,403.5 L1142,700.8 M655,724.5 L1126.4,1042.2 M114.5,1073.6 L669,854 M201.7,1143.9 L762,915 M294.4,1216.7 L857.4,979.4 M386.2,1290.5 L955,1046.3 M483.8,1368.6 L1055.4,1117.7 M147.2,1020.4 L588.7,1369 M275.4,970 L718,1310 M398,920.3 L848,1252.6 M518,873 L973.4,1196.8 M638,828 L1096,1142.8 M65.4,618.6 L640,409" stroke="#6a0000" stroke-opacity="0.22" stroke-width="2.5" fill="none"/></g>
<g id="mottle">
<g clip-path="url(#cEb)"><ellipse cx="558.5" cy="675.6" rx="388.4" ry="199.8" transform="rotate(-110.90 558.5 675.6)" fill="rgb(143,143,195)"/><path d="M145 97h13v1h-13zM141 98h22v1h-22zM138 99h28v1h-28zM136 100h33v1h-33zM134 101h38v1h-38zM132 102h42v1h-42zM130 103h46v1h-46zM129 104h49v1h-49zM128 105h52v1h-52zM128 106h30v1h-30zM159 106h23v1h-23zM128 107h8v1h-8zM138 107h19v1h-19zM162 107h21v1h-21zM125 108h11v1h-11zM139 108h18v1h-18zM163 108h21v1h-21zM124 109h12v1h-12zM140 109h16v1h-16zM165 109h20v1h-20zM123 110h12v1h-12zM141 110h13v1h-13zM167 110h19v1h-19zM122 111h13v1h-13zM142 111h9v1h-9zM169 111h18v1h-18zM121 112h8v1h-8zM130 112h4v1h-4zM144 112h7v1h-7zM164 112h1v1h-1zM170 112h20v1h-20zM120 113h9v1h-9zM145 113h6v1h-6zM164 113h2v1h-2zM170 113h22v1h-22zM120 114h9v1h-9zM146 114h5v1h-5zM166 114h1v1h-1zM169 114h14v1h-14zM184 114h9v1h-9zM119 115h9v1h-9zM148 115h3v1h-3zM166 115h16v1h-16zM185 115h9v1h-9zM118 116h9v1h-9zM167 116h13v1h-13zM186 116h9v1h-9zM118 117h11v1h-11zM167 117h12v1h-12zM184 117h13v1h-13zM117 118h17v1h-17zM135 118h1v1h-1zM168 118h12v1h-12zM184 118h14v1h-14zM116 119h21v1h-21zM168 119h12v1h-12zM184 119h15v1h-15zM116 120h21v1h-21zM165 120h14v1h-14zM184 120h16v1h-16zM115 121h22v1h-22zM166 121h1v1h-1zM168 121h11v1h-11zM184 121h17v1h-17zM115 122h22v1h-22zM171 122h4v1h-4zM177 122h2v1h-2zM184 122h18v1h-18zM114 123h23v1h-23zM150 123h1v1h-1zM172 123h1v1h-1zM184 123h7v1h-7zM193 123h10v1h-10zM114 124h24v1h-24zM150 124h2v1h-2zM173 124h1v1h-1zM176 124h2v1h-2zM185 124h6v1h-6zM194 124h10v1h-10zM113 125h27v1h-27zM150 125h3v1h-3zM175 125h4v1h-4zM185 125h6v1h-6zM194 125h11v1h-11zM113 126h22v1h-22zM137 126h4v1h-4zM147 126h1v1h-1zM150 126h3v1h-3zM162 126h3v1h-3zM174 126h6v1h-6zM186 126h5v1h-5zM197 126h9v1h-9zM113 127h22v1h-22zM137 127h8v1h-8zM147 127h6v1h-6zM160 127h5v1h-5zM174 127h7v1h-7zM186 127h6v1h-6zM198 127h9v1h-9zM112 128h24v1h-24zM137 128h8v1h-8zM147 128h7v1h-7zM159 128h6v1h-6zM175 128h6v1h-6zM187 128h5v1h-5zM198 128h10v1h-10zM112 129h33v1h-33zM148 129h2v1h-2zM152 129h2v1h-2zM158 129h5v1h-5zM175 129h6v1h-6zM187 129h5v1h-5zM197 129h12v1h-12zM112 130h33v1h-33zM158 130h5v1h-5zM176 130h5v1h-5zM187 130h4v1h-4zM197 130h13v1h-13zM111 131h35v1h-35zM159 131h2v1h-2zM162 131h1v1h-1zM176 131h4v1h-4zM186 131h2v1h-2zM190 131h1v1h-1zM198 131h12v1h-12zM111 132h35v1h-35zM159 132h2v1h-2zM177 132h2v1h-2zM186 132h2v1h-2zM199 132h12v1h-12zM111 133h22v1h-22zM134 133h12v1h-12zM151 133h2v1h-2zM160 133h1v1h-1zM181 133h1v1h-1zM186 133h2v1h-2zM199 133h13v1h-13zM110 134h23v1h-23zM139 134h8v1h-8zM151 134h3v1h-3zM157 134h5v1h-5zM167 134h1v1h-1zM187 134h2v1h-2zM200 134h13v1h-13zM110 135h23v1h-23zM139 135h10v1h-10zM159 135h3v1h-3zM166 135h2v1h-2zM187 135h2v1h-2zM200 135h14v1h-14zM110 136h23v1h-23zM140 136h4v1h-4zM165 136h3v1h-3zM188 136h1v1h-1zM203 136h12v1h-12zM109 137h23v1h-23zM140 137h1v1h-1zM168 137h1v1h-1zM203 137h13v1h-13zM109 138h23v1h-23zM199 138h2v1h-2zM204 138h12v1h-12zM109 139h24v1h-24zM179 139h1v1h-1zM199 139h3v1h-3zM204 139h13v1h-13zM109 140h25v1h-25zM176 140h2v1h-2zM193 140h1v1h-1zM199 140h19v1h-19zM108 141h16v1h-16zM129 141h5v1h-5zM177 141h1v1h-1zM194 141h4v1h-4zM199 141h20v1h-20zM108 142h17v1h-17zM130 142h2v1h-2zM189 142h1v1h-1zM194 142h25v1h-25zM108 143h18v1h-18zM130 143h1v1h-1zM189 143h5v1h-5zM197 143h4v1h-4zM203 143h17v1h-17zM108 144h7v1h-7zM116 144h11v1h-11zM188 144h6v1h-6zM197 144h4v1h-4zM204 144h17v1h-17zM108 145h7v1h-7zM116 145h12v1h-12zM189 145h5v1h-5zM198 145h4v1h-4zM204 145h18v1h-18zM107 146h8v1h-8zM117 146h11v1h-11zM189 146h7v1h-7zM198 146h2v1h-2zM205 146h17v1h-17zM107 147h9v1h-9zM117 147h10v1h-10zM190 147h2v1h-2zM194 147h3v1h-3zM198 147h2v1h-2zM202 147h1v1h-1zM206 147h17v1h-17zM107 148h19v1h-19zM195 148h4v1h-4zM206 148h18v1h-18zM107 149h9v1h-9zM118 149h7v1h-7zM195 149h3v1h-3zM207 149h17v1h-17zM107 150h9v1h-9zM119 150h6v1h-6zM207 150h18v1h-18zM107 151h8v1h-8zM120 151h4v1h-4zM210 151h16v1h-16zM107 152h9v1h-9zM121 152h2v1h-2zM204 152h3v1h-3zM211 152h15v1h-15zM106 153h11v1h-11zM122 153h1v1h-1zM200 153h2v1h-2zM203 153h4v1h-4zM212 153h15v1h-15zM106 154h11v1h-11zM200 154h6v1h-6zM213 154h15v1h-15zM106 155h12v1h-12zM200 155h6v1h-6zM214 155h14v1h-14zM106 156h12v1h-12zM201 156h5v1h-5zM214 156h15v1h-15zM106 157h13v1h-13zM215 157h15v1h-15zM106 158h14v1h-14zM215 158h1v1h-1zM217 158h13v1h-13zM106 159h13v1h-13zM218 159h13v1h-13zM106 160h13v1h-13zM219 160h12v1h-12zM106 161h13v1h-13zM219 161h13v1h-13zM106 162h12v1h-12zM220 162h13v1h-13zM106 163h12v1h-12zM221 163h12v1h-12zM106 164h11v1h-11zM221 164h13v1h-13zM106 165h11v1h-11zM222 165h12v1h-12zM106 166h11v1h-11zM222 166h13v1h-13zM106 167h10v1h-10zM222 167h14v1h-14zM106 168h10v1h-10zM223 168h13v1h-13zM106 169h10v1h-10zM223 169h14v1h-14zM106 170h9v1h-9zM224 170h13v1h-13zM106 171h9v1h-9zM225 171h13v1h-13zM106 172h9v1h-9zM227 172h11v1h-11zM106 173h9v1h-9zM227 173h12v1h-12zM106 174h8v1h-8zM227 174h12v1h-12zM106 175h8v1h-8zM227 175h13v1h-13zM106 176h8v1h-8zM228 176h12v1h-12zM106 177h8v1h-8zM228 177h13v1h-13zM106 178h7v1h-7zM229 178h12v1h-12zM106 179h7v1h-7zM229 179h13v1h-13zM106 180h7v1h-7zM219 180h1v1h-1zM229 180h2v1h-2zM232 180h10v1h-10zM106 181h7v1h-7zM220 181h1v1h-1zM230 181h1v1h-1zM232 181h11v1h-11zM106 182h7v1h-7zM233 182h10v1h-10zM106 183h7v1h-7zM230 183h1v1h-1zM234 183h10v1h-10zM106 184h6v1h-6zM230 184h2v1h-2zM234 184h10v1h-10zM106 185h6v1h-6zM234 185h11v1h-11zM106 186h6v1h-6zM235 186h10v1h-10zM106 187h6v1h-6zM235 187h11v1h-11zM107 188h5v1h-5zM236 188h10v1h-10zM107 189h5v1h-5zM236 189h10v1h-10zM107 190h5v1h-5zM237 190h10v1h-10zM107 191h5v1h-5zM237 191h10v1h-10zM107 192h5v1h-5zM237 192h11v1h-11zM107 193h5v1h-5zM238 193h10v1h-10zM107 194h5v1h-5zM239 194h10v1h-10zM107 195h5v1h-5zM240 195h9v1h-9zM108 196h3v1h-3zM240 196h9v1h-9zM109 197h2v1h-2zM240 197h10v1h-10zM110 198h1v1h-1zM241 198h9v1h-9zM109 199h2v1h-2zM241 199h9v1h-9zM109 200h2v1h-2zM241 200h10v1h-10zM109 201h2v1h-2zM242 201h9v1h-9zM108 202h2v1h-2zM242 202h10v1h-10zM109 203h1v1h-1zM242 203h10v1h-10zM109 204h2v1h-2zM243 204h9v1h-9zM109 205h2v1h-2zM243 205h10v1h-10zM109 206h2v1h-2zM243 206h10v1h-10zM109 207h3v1h-3zM244 207h9v1h-9zM110 208h2v1h-2zM244 208h10v1h-10zM110 209h2v1h-2zM244 209h10v1h-10zM110 210h2v1h-2zM245 210h9v1h-9zM110 211h2v1h-2zM246 211h9v1h-9zM110 212h2v1h-2zM241 212h1v1h-1zM246 212h9v1h-9zM111 213h1v1h-1zM239 213h5v1h-5zM246 213h9v1h-9zM111 214h1v1h-1zM239 214h17v1h-17zM111 215h1v1h-1zM240 215h16v1h-16zM111 216h1v1h-1zM240 216h16v1h-16zM111 217h1v1h-1zM241 217h16v1h-16zM241 218h16v1h-16zM242 219h15v1h-15zM112 220h1v1h-1zM242 220h16v1h-16zM112 221h1v1h-1zM242 221h16v1h-16zM243 222h15v1h-15zM243 223h15v1h-15zM244 224h15v1h-15zM244 225h15v1h-15zM245 226h14v1h-14zM245 227h15v1h-15zM245 228h15v1h-15zM246 229h14v1h-14zM246 230h14v1h-14zM246 231h15v1h-15zM247 232h14v1h-14zM247 233h14v1h-14zM248 234h13v1h-13zM248 235h13v1h-13zM248 236h14v1h-14zM249 237h13v1h-13zM249 238h13v1h-13zM249 239h13v1h-13zM250 240h13v1h-13zM250 241h13v1h-13zM250 242h13v1h-13zM251 243h12v1h-12zM251 244h12v1h-12zM251 245h12v1h-12zM252 246h12v1h-12zM252 247h12v1h-12zM252 248h12v1h-12zM252 249h12v1h-12zM253 250h11v1h-11zM253 251h11v1h-11zM253 252h12v1h-12zM254 253h11v1h-11zM254 254h11v1h-11zM254 255h11v1h-11zM254 256h11v1h-11zM255 257h10v1h-10zM255 258h10v1h-10zM255 259h11v1h-11zM255 260h11v1h-11zM256 261h10v1h-10zM256 262h10v1h-10zM256 263h10v1h-10zM256 264h10v1h-10zM256 265h10v1h-10zM257 266h9v1h-9zM257 267h9v1h-9zM257 268h9v1h-9zM257 269h9v1h-9zM257 270h9v1h-9zM258 271h9v1h-9zM258 272h9v1h-9zM258 273h9v1h-9zM258 274h9v1h-9zM258 275h9v1h-9zM258 276h9v1h-9zM259 277h8v1h-8zM259 278h8v1h-8zM259 279h8v1h-8zM259 280h8v1h-8zM259 281h8v1h-8zM259 282h8v1h-8zM259 283h8v1h-8zM259 284h8v1h-8zM260 285h7v1h-7zM260 286h7v1h-7zM260 287h7v1h-7zM260 288h7v1h-7zM260 289h6v1h-6zM260 290h6v1h-6zM260 291h6v1h-6zM260 292h6v1h-6zM260 293h6v1h-6zM260 294h6v1h-6zM260 295h6v1h-6zM260 296h6v1h-6zM260 297h6v1h-6zM260 298h6v1h-6zM260 299h6v1h-6zM260 300h5v1h-5zM260 301h5v1h-5zM260 302h5v1h-5zM260 303h5v1h-5zM260 304h5v1h-5zM260 305h5v1h-5zM260 306h4v1h-4zM260 307h4v1h-4zM260 308h4v1h-4zM260 309h4v1h-4zM260 310h4v1h-4zM260 311h3v1h-3zM260 312h3v1h-3zM260 313h3v1h-3zM260 314h3v1h-3zM260 315h2v1h-2zM260 316h2v1h-2zM260 317h2v1h-2zM260 318h1v1h-1zM259 319h2v1h-2zM259 320h2v1h-2zM259 321h1v1h-1zM259 322h1v1h-1zM258 325h1v1h-1z" fill="rgb(90,88,170)" transform="scale(3)" shape-rendering="crispEdges"/></g>
<g clip-path="url(#cEb)"><g clip-path="url(#cRed)"><rect x="300" y="280" width="520" height="880" fill="rgb(122,28,45)"/></g></g>
<g clip-path="url(#cEr)"><ellipse cx="557.8" cy="756.2" rx="384.5" ry="199.7" transform="rotate(-111.40 557.8 756.2)" fill="rgb(190,130,128)"/><path d="M112 155h1v1h-1zM112 156h1v1h-1zM111 157h2v1h-2zM111 158h2v1h-2zM111 159h2v1h-2zM110 160h2v1h-2zM110 161h2v1h-2zM110 162h2v1h-2zM110 163h2v1h-2zM109 164h3v1h-3zM109 165h3v1h-3zM109 166h3v1h-3zM108 167h4v1h-4zM108 168h4v1h-4zM108 169h4v1h-4zM108 170h4v1h-4zM108 171h4v1h-4zM107 172h5v1h-5zM107 173h5v1h-5zM107 174h5v1h-5zM107 175h5v1h-5zM107 176h5v1h-5zM107 177h5v1h-5zM106 178h6v1h-6zM106 179h6v1h-6zM106 180h6v1h-6zM106 181h6v1h-6zM106 182h6v1h-6zM106 183h6v1h-6zM106 184h6v1h-6zM106 185h6v1h-6zM106 186h6v1h-6zM106 187h6v1h-6zM105 188h7v1h-7zM105 189h7v1h-7zM105 190h8v1h-8zM105 191h8v1h-8zM105 192h8v1h-8zM105 193h8v1h-8zM105 194h8v1h-8zM105 195h8v1h-8zM105 196h8v1h-8zM105 197h8v1h-8zM105 198h9v1h-9zM105 199h9v1h-9zM105 200h9v1h-9zM105 201h9v1h-9zM105 202h9v1h-9zM105 203h9v1h-9zM105 204h9v1h-9zM105 205h10v1h-10zM105 206h10v1h-10zM105 207h10v1h-10zM106 208h9v1h-9zM106 209h9v1h-9zM106 210h10v1h-10zM106 211h10v1h-10zM106 212h10v1h-10zM106 213h10v1h-10zM106 214h10v1h-10zM106 215h11v1h-11zM106 216h11v1h-11zM106 217h11v1h-11zM106 218h11v1h-11zM107 219h11v1h-11zM107 220h11v1h-11zM107 221h11v1h-11zM107 222h11v1h-11zM107 223h12v1h-12zM107 224h12v1h-12zM107 225h12v1h-12zM108 226h11v1h-11zM108 227h12v1h-12zM108 228h12v1h-12zM108 229h12v1h-12zM108 230h13v1h-13zM108 231h13v1h-13zM109 232h12v1h-12zM109 233h12v1h-12zM109 234h13v1h-13zM109 235h13v1h-13zM109 236h13v1h-13zM110 237h13v1h-13zM110 238h13v1h-13zM110 239h13v1h-13zM110 240h14v1h-14zM110 241h14v1h-14zM111 242h13v1h-13zM111 243h14v1h-14zM111 244h14v1h-14zM111 245h14v1h-14zM112 246h14v1h-14zM112 247h14v1h-14zM112 248h15v1h-15zM112 249h15v1h-15zM113 250h14v1h-14zM113 251h15v1h-15zM113 252h15v1h-15zM113 253h16v1h-16zM114 254h15v1h-15zM114 255h15v1h-15zM114 256h16v1h-16zM115 257h15v1h-15zM115 258h16v1h-16zM115 259h16v1h-16zM116 260h16v1h-16zM116 261h16v1h-16zM116 262h17v1h-17zM117 263h16v1h-16zM117 264h16v1h-16zM117 265h17v1h-17zM118 266h16v1h-16zM118 267h17v1h-17zM118 268h17v1h-17zM119 269h17v1h-17zM119 270h17v1h-17zM119 271h18v1h-18zM120 272h17v1h-17zM120 273h17v1h-17zM120 274h17v1h-17zM121 275h16v1h-16zM121 276h16v1h-16zM122 277h15v1h-15zM122 278h15v1h-15zM122 279h16v1h-16zM123 280h15v1h-15zM123 281h16v1h-16zM124 282h15v1h-15zM124 283h16v1h-16zM124 284h16v1h-16zM125 285h16v1h-16zM125 286h16v1h-16zM126 287h15v1h-15zM126 288h16v1h-16zM127 289h15v1h-15zM127 290h16v1h-16zM128 291h15v1h-15zM128 292h16v1h-16zM128 293h16v1h-16zM129 294h15v1h-15zM129 295h16v1h-16zM130 296h15v1h-15zM130 297h15v1h-15zM131 298h15v1h-15zM131 299h16v1h-16zM132 300h15v1h-15zM132 301h16v1h-16zM133 302h15v1h-15zM133 303h16v1h-16zM134 304h15v1h-15zM135 305h14v1h-14zM135 306h15v1h-15zM136 307h14v1h-14zM136 308h14v1h-14zM137 309h13v1h-13zM137 310h13v1h-13zM138 311h13v1h-13zM139 312h12v1h-12zM139 313h12v1h-12zM140 314h12v1h-12zM140 315h12v1h-12zM141 316h12v1h-12zM142 317h11v1h-11zM142 318h11v1h-11zM143 319h10v1h-10zM143 320h11v1h-11zM144 321h10v1h-10zM145 322h8v1h-8zM145 323h8v1h-8zM146 324h8v1h-8zM147 325h7v1h-7zM147 326h8v1h-8zM148 327h7v1h-7zM149 328h7v1h-7zM150 329h8v1h-8zM150 330h8v1h-8zM151 331h8v1h-8zM152 332h8v1h-8zM153 333h7v1h-7zM153 334h7v1h-7zM154 335h7v1h-7zM155 336h6v1h-6zM156 337h5v1h-5zM156 338h5v1h-5zM157 339h5v1h-5zM158 340h5v1h-5zM159 341h5v1h-5zM160 342h4v1h-4zM161 343h2v1h-2zM162 344h1v1h-1zM162 345h1v1h-1z" fill="rgb(186,68,68)" transform="scale(3)" shape-rendering="crispEdges"/><path d="M259 255h1v1h-1zM259 256h1v1h-1zM260 259h1v1h-1zM260 260h1v1h-1zM260 261h1v1h-1zM260 262h1v1h-1zM260 263h2v1h-2zM260 264h2v1h-2zM260 265h2v1h-2zM260 266h2v1h-2zM260 267h2v1h-2zM260 268h3v1h-3zM260 269h3v1h-3zM260 270h3v1h-3zM260 271h3v1h-3zM261 272h2v1h-2zM261 273h3v1h-3zM261 274h3v1h-3zM261 275h3v1h-3zM261 276h3v1h-3zM261 277h3v1h-3zM261 278h3v1h-3zM261 279h4v1h-4zM260 280h5v1h-5zM260 281h5v1h-5zM260 282h5v1h-5zM260 283h5v1h-5zM260 284h5v1h-5zM260 285h5v1h-5zM260 286h6v1h-6zM260 287h6v1h-6zM260 288h6v1h-6zM260 289h6v1h-6zM260 290h6v1h-6zM260 291h6v1h-6zM260 292h6v1h-6zM259 293h7v1h-7zM259 294h7v1h-7zM259 295h7v1h-7zM259 296h7v1h-7zM259 297h7v1h-7zM259 298h7v1h-7zM259 299h8v1h-8zM258 300h9v1h-9zM258 301h9v1h-9zM258 302h9v1h-9zM258 303h9v1h-9zM257 304h10v1h-10zM257 305h10v1h-10zM157 306h1v1h-1zM257 306h10v1h-10zM158 307h1v1h-1zM257 307h10v1h-10zM157 308h3v1h-3zM256 308h11v1h-11zM158 309h2v1h-2zM256 309h11v1h-11zM158 310h2v1h-2zM256 310h11v1h-11zM158 311h2v1h-2zM255 311h12v1h-12zM158 312h1v1h-1zM255 312h12v1h-12zM255 313h12v1h-12zM254 314h12v1h-12zM254 315h12v1h-12zM254 316h12v1h-12zM253 317h13v1h-13zM253 318h13v1h-13zM252 319h14v1h-14zM252 320h14v1h-14zM251 321h15v1h-15zM251 322h15v1h-15zM250 323h16v1h-16zM250 324h16v1h-16zM249 325h16v1h-16zM248 326h17v1h-17zM248 327h17v1h-17zM166 328h1v1h-1zM247 328h18v1h-18zM246 329h19v1h-19zM245 330h20v1h-20zM244 331h21v1h-21zM243 332h21v1h-21zM243 333h21v1h-21zM241 334h1v1h-1zM243 334h21v1h-21zM243 335h21v1h-21zM163 336h1v1h-1zM243 336h20v1h-20zM163 337h1v1h-1zM243 337h20v1h-20zM239 338h1v1h-1zM243 338h20v1h-20zM239 339h2v1h-2zM243 339h20v1h-20zM240 340h2v1h-2zM243 340h19v1h-19zM243 341h19v1h-19zM243 342h19v1h-19zM199 343h1v1h-1zM231 343h1v1h-1zM243 343h18v1h-18zM229 344h1v1h-1zM231 344h1v1h-1zM243 344h18v1h-18zM229 345h2v1h-2zM243 345h18v1h-18zM229 346h2v1h-2zM243 346h17v1h-17zM186 347h3v1h-3zM229 347h2v1h-2zM243 347h17v1h-17zM186 348h4v1h-4zM229 348h2v1h-2zM242 348h18v1h-18zM187 349h2v1h-2zM229 349h2v1h-2zM240 349h19v1h-19zM187 350h3v1h-3zM229 350h2v1h-2zM238 350h21v1h-21zM188 351h2v1h-2zM209 351h1v1h-1zM229 351h3v1h-3zM236 351h22v1h-22zM202 352h1v1h-1zM229 352h3v1h-3zM234 352h24v1h-24zM229 353h28v1h-28zM229 354h28v1h-28zM229 355h27v1h-27zM230 356h26v1h-26zM230 357h25v1h-25zM230 358h25v1h-25zM213 359h1v1h-1zM230 359h24v1h-24zM203 360h1v1h-1zM213 360h1v1h-1zM230 360h23v1h-23zM203 361h3v1h-3zM230 361h23v1h-23zM204 362h3v1h-3zM209 362h4v1h-4zM229 362h23v1h-23zM204 363h4v1h-4zM209 363h4v1h-4zM229 363h22v1h-22zM204 364h9v1h-9zM229 364h21v1h-21zM204 365h10v1h-10zM229 365h21v1h-21zM205 366h10v1h-10zM217 366h1v1h-1zM228 366h21v1h-21zM207 367h12v1h-12zM224 367h24v1h-24zM207 368h13v1h-13zM224 368h23v1h-23zM209 369h11v1h-11zM223 369h22v1h-22zM195 370h1v1h-1zM210 370h8v1h-8zM221 370h23v1h-23zM213 371h2v1h-2zM216 371h2v1h-2zM220 371h23v1h-23zM221 372h21v1h-21zM200 373h1v1h-1zM221 373h19v1h-19zM203 374h1v1h-1zM221 374h17v1h-17zM204 375h3v1h-3zM221 375h15v1h-15zM207 376h1v1h-1zM221 376h13v1h-13zM222 377h8v1h-8zM222 378h3v1h-3z" fill="rgb(160,62,62)" transform="scale(3)" shape-rendering="crispEdges"/><path d="M259 255h1v1h-1zM259 256h1v1h-1zM260 259h1v1h-1zM260 260h1v1h-1zM260 261h1v1h-1zM260 262h1v1h-1zM260 263h2v1h-2zM260 264h2v1h-2zM260 265h2v1h-2zM260 266h2v1h-2zM260 267h2v1h-2zM260 268h3v1h-3zM260 269h3v1h-3zM260 270h3v1h-3zM260 271h3v1h-3zM261 272h2v1h-2zM261 273h3v1h-3zM261 274h3v1h-3zM261 275h3v1h-3zM261 276h3v1h-3zM261 277h3v1h-3zM261 278h3v1h-3zM261 279h4v1h-4zM260 280h5v1h-5zM260 281h5v1h-5zM260 282h5v1h-5zM260 283h5v1h-5zM260 284h5v1h-5zM260 285h5v1h-5zM260 286h6v1h-6zM260 287h6v1h-6zM260 288h6v1h-6zM260 289h6v1h-6zM260 290h6v1h-6zM260 291h6v1h-6zM260 292h6v1h-6zM259 293h7v1h-7zM259 294h7v1h-7zM259 295h7v1h-7zM259 296h7v1h-7zM259 297h7v1h-7zM259 298h7v1h-7zM259 299h8v1h-8zM258 300h9v1h-9zM258 301h9v1h-9zM258 302h9v1h-9zM258 303h9v1h-9zM257 304h10v1h-10zM257 305h10v1h-10zM257 306h10v1h-10zM257 307h10v1h-10zM256 308h11v1h-11zM256 309h11v1h-11zM256 310h11v1h-11zM255 311h12v1h-12zM255 312h12v1h-12zM255 313h12v1h-12zM254 314h12v1h-12zM254 315h12v1h-12zM254 316h12v1h-12zM253 317h13v1h-13zM253 318h13v1h-13zM252 319h14v1h-14zM252 320h14v1h-14zM251 321h15v1h-15zM251 322h15v1h-15zM250 323h16v1h-16zM250 324h16v1h-16zM249 325h16v1h-16zM248 326h17v1h-17zM248 327h17v1h-17zM247 328h18v1h-18zM246 329h19v1h-19zM245 330h20v1h-20zM244 331h18v1h-18zM243 332h18v1h-18zM243 333h13v1h-13zM241 334h14v1h-14zM240 335h10v1h-10zM252 335h2v1h-2zM239 336h11v1h-11zM238 337h11v1h-11zM236 338h12v1h-12zM234 339h12v1h-12zM233 340h7v1h-7zM233 341h6v1h-6zM233 342h4v1h-4zM233 343h1v1h-1z" fill="rgb(128,28,40)" transform="scale(3)" shape-rendering="crispEdges"/></g>
<g clip-path="url(#cEr)"><g clip-path="url(#cEb)"><rect x="300" y="280" width="520" height="880" fill="rgb(125,72,98)"/><path d="M122 217h1v1h-1zM122 218h1v1h-1zM122 219h1v1h-1zM122 220h1v1h-1zM122 221h1v1h-1zM122 222h1v1h-1zM132 268h2v1h-2zM133 269h1v1h-1zM133 270h1v1h-1zM191 333h1v1h-1z" fill="rgb(150,72,95)" transform="scale(3)" shape-rendering="crispEdges"/><path d="M182 140h1v1h-1zM182 141h2v1h-2zM182 142h1v1h-1zM184 142h1v1h-1zM182 143h3v1h-3zM182 144h3v1h-3zM182 145h3v1h-3zM182 146h2v1h-2zM113 154h3v1h-3zM113 155h3v1h-3zM112 156h4v1h-4zM112 157h4v1h-4zM114 158h3v1h-3zM195 158h1v1h-1zM115 159h1v1h-1zM193 159h4v1h-4zM193 160h5v1h-5zM193 161h5v1h-5zM193 162h6v1h-6zM194 163h5v1h-5zM195 164h4v1h-4zM196 165h3v1h-3zM113 177h1v1h-1zM114 178h1v1h-1zM114 179h1v1h-1zM107 193h1v1h-1zM107 194h1v1h-1zM107 195h2v1h-2zM108 196h1v1h-1zM108 197h2v1h-2zM235 197h2v1h-2zM108 198h2v1h-2zM234 198h3v1h-3zM108 199h3v1h-3zM234 199h4v1h-4zM108 200h2v1h-2zM234 200h4v1h-4zM108 201h2v1h-2zM234 201h5v1h-5zM108 202h2v1h-2zM233 202h6v1h-6zM109 203h1v1h-1zM233 203h7v1h-7zM109 204h2v1h-2zM231 204h9v1h-9zM231 205h3v1h-3zM235 205h4v1h-4zM232 206h2v1h-2zM237 206h3v1h-3zM121 207h1v1h-1zM232 207h2v1h-2zM238 207h3v1h-3zM121 208h3v1h-3zM209 208h1v1h-1zM238 208h4v1h-4zM121 209h4v1h-4zM209 209h2v1h-2zM233 209h1v1h-1zM238 209h4v1h-4zM120 210h6v1h-6zM207 210h5v1h-5zM233 210h1v1h-1zM239 210h3v1h-3zM117 211h5v1h-5zM124 211h3v1h-3zM208 211h4v1h-4zM234 211h2v1h-2zM116 212h7v1h-7zM124 212h4v1h-4zM208 212h5v1h-5zM235 212h2v1h-2zM116 213h12v1h-12zM209 213h4v1h-4zM229 213h1v1h-1zM235 213h2v1h-2zM115 214h8v1h-8zM127 214h1v1h-1zM209 214h4v1h-4zM229 214h1v1h-1zM236 214h1v1h-1zM115 215h7v1h-7zM210 215h3v1h-3zM229 215h1v1h-1zM111 216h1v1h-1zM114 216h8v1h-8zM211 216h2v1h-2zM111 217h11v1h-11zM112 218h10v1h-10zM112 219h10v1h-10zM112 220h10v1h-10zM112 221h10v1h-10zM115 222h3v1h-3zM116 223h2v1h-2zM121 238h1v1h-1zM121 239h3v1h-3zM219 239h1v1h-1zM118 240h1v1h-1zM121 240h4v1h-4zM219 240h1v1h-1zM118 241h2v1h-2zM121 241h4v1h-4zM219 241h2v1h-2zM119 242h1v1h-1zM121 242h5v1h-5zM219 242h2v1h-2zM119 243h1v1h-1zM122 243h5v1h-5zM219 243h3v1h-3zM119 244h1v1h-1zM123 244h4v1h-4zM220 244h2v1h-2zM124 245h4v1h-4zM220 245h1v1h-1zM124 246h5v1h-5zM125 247h5v1h-5zM125 248h5v1h-5zM124 249h7v1h-7zM123 250h4v1h-4zM130 250h2v1h-2zM256 250h2v1h-2zM122 251h4v1h-4zM256 251h3v1h-3zM122 252h5v1h-5zM256 252h3v1h-3zM123 253h4v1h-4zM256 253h3v1h-3zM123 254h4v1h-4zM256 254h3v1h-3zM124 255h4v1h-4zM257 255h3v1h-3zM124 256h5v1h-5zM257 256h3v1h-3zM124 257h5v1h-5zM257 257h3v1h-3zM125 258h4v1h-4zM258 258h2v1h-2zM125 259h5v1h-5zM258 259h3v1h-3zM126 260h4v1h-4zM259 260h2v1h-2zM126 261h4v1h-4zM259 261h2v1h-2zM127 262h3v1h-3zM260 262h1v1h-1zM127 263h4v1h-4zM128 264h3v1h-3zM238 264h1v1h-1zM128 265h4v1h-4zM238 265h1v1h-1zM128 266h5v1h-5zM241 266h1v1h-1zM132 267h1v1h-1zM132 269h1v1h-1zM130 270h3v1h-3zM131 271h2v1h-2zM131 272h2v1h-2zM142 287h1v1h-1zM142 288h3v1h-3zM141 289h4v1h-4zM148 289h1v1h-1zM142 290h3v1h-3zM148 290h2v1h-2zM142 291h4v1h-4zM149 291h1v1h-1zM265 291h1v1h-1zM142 292h5v1h-5zM149 292h2v1h-2zM143 293h13v1h-13zM144 294h12v1h-12zM144 295h12v1h-12zM145 296h12v1h-12zM162 296h1v1h-1zM146 297h11v1h-11zM162 297h1v1h-1zM146 298h3v1h-3zM151 298h6v1h-6zM160 298h3v1h-3zM147 299h2v1h-2zM151 299h7v1h-7zM161 299h2v1h-2zM148 300h2v1h-2zM151 300h8v1h-8zM162 300h1v1h-1zM148 301h11v1h-11zM162 301h1v1h-1zM149 302h6v1h-6zM150 303h5v1h-5zM150 304h4v1h-4zM151 305h3v1h-3zM152 306h3v1h-3zM153 307h2v1h-2zM153 308h2v1h-2zM208 308h1v1h-1zM154 309h1v1h-1zM208 309h1v1h-1zM183 318h1v1h-1zM182 319h3v1h-3zM182 320h4v1h-4zM169 321h1v1h-1zM182 321h4v1h-4zM169 322h2v1h-2zM183 322h3v1h-3zM170 323h1v1h-1zM184 323h1v1h-1zM170 324h2v1h-2zM172 325h1v1h-1zM172 326h1v1h-1zM173 327h1v1h-1zM173 328h1v1h-1zM173 329h1v1h-1zM173 330h1v1h-1zM174 331h1v1h-1zM238 345h2v1h-2z" fill="rgb(128,45,85)" transform="scale(3)" shape-rendering="crispEdges"/><path d="M137 142h1v1h-1zM133 147h3v1h-3zM173 149h2v1h-2zM174 150h1v1h-1zM174 151h2v1h-2zM175 152h2v1h-2zM175 153h3v1h-3zM142 154h1v1h-1zM177 154h2v1h-2zM192 154h1v1h-1zM116 155h2v1h-2zM141 155h3v1h-3zM177 155h3v1h-3zM192 155h2v1h-2zM116 156h3v1h-3zM141 156h3v1h-3zM178 156h3v1h-3zM192 156h3v1h-3zM111 157h1v1h-1zM116 157h3v1h-3zM141 157h3v1h-3zM178 157h4v1h-4zM193 157h2v1h-2zM111 158h2v1h-2zM117 158h3v1h-3zM142 158h3v1h-3zM179 158h4v1h-4zM194 158h1v1h-1zM111 159h3v1h-3zM117 159h3v1h-3zM142 159h3v1h-3zM179 159h4v1h-4zM110 160h6v1h-6zM117 160h2v1h-2zM143 160h2v1h-2zM180 160h3v1h-3zM110 161h8v1h-8zM181 161h2v1h-2zM110 162h9v1h-9zM123 162h2v1h-2zM110 163h10v1h-10zM123 163h3v1h-3zM109 164h12v1h-12zM122 164h5v1h-5zM109 165h18v1h-18zM203 165h2v1h-2zM109 166h2v1h-2zM112 166h10v1h-10zM124 166h4v1h-4zM203 166h2v1h-2zM108 167h3v1h-3zM113 167h3v1h-3zM117 167h5v1h-5zM125 167h4v1h-4zM202 167h3v1h-3zM108 168h3v1h-3zM114 168h2v1h-2zM119 168h2v1h-2zM127 168h5v1h-5zM203 168h2v1h-2zM108 169h3v1h-3zM128 169h5v1h-5zM108 170h3v1h-3zM129 170h5v1h-5zM108 171h4v1h-4zM130 171h6v1h-6zM107 172h5v1h-5zM131 172h5v1h-5zM108 173h4v1h-4zM132 173h4v1h-4zM108 174h4v1h-4zM133 174h3v1h-3zM109 175h3v1h-3zM109 176h4v1h-4zM109 177h4v1h-4zM106 178h2v1h-2zM109 178h5v1h-5zM193 178h3v1h-3zM106 179h8v1h-8zM193 179h4v1h-4zM106 180h9v1h-9zM193 180h5v1h-5zM106 181h10v1h-10zM194 181h4v1h-4zM106 182h11v1h-11zM118 182h3v1h-3zM106 183h16v1h-16zM106 184h16v1h-16zM106 185h17v1h-17zM106 186h17v1h-17zM106 187h17v1h-17zM108 188h16v1h-16zM203 188h2v1h-2zM215 188h2v1h-2zM109 189h15v1h-15zM204 189h1v1h-1zM215 189h2v1h-2zM110 190h14v1h-14zM215 190h3v1h-3zM107 191h1v1h-1zM110 191h15v1h-15zM215 191h3v1h-3zM107 192h1v1h-1zM110 192h16v1h-16zM111 193h16v1h-16zM111 194h18v1h-18zM111 195h20v1h-20zM111 196h10v1h-10zM122 196h10v1h-10zM186 196h1v1h-1zM111 197h8v1h-8zM124 197h2v1h-2zM132 197h1v1h-1zM186 197h2v1h-2zM209 197h5v1h-5zM111 198h5v1h-5zM187 198h1v1h-1zM209 198h5v1h-5zM111 199h2v1h-2zM187 199h2v1h-2zM209 199h6v1h-6zM110 200h3v1h-3zM133 200h1v1h-1zM209 200h7v1h-7zM110 201h4v1h-4zM133 201h2v1h-2zM163 201h2v1h-2zM203 201h2v1h-2zM209 201h7v1h-7zM110 202h4v1h-4zM134 202h1v1h-1zM163 202h3v1h-3zM203 202h3v1h-3zM209 202h8v1h-8zM110 203h5v1h-5zM163 203h4v1h-4zM204 203h3v1h-3zM209 203h9v1h-9zM111 204h4v1h-4zM163 204h6v1h-6zM204 204h4v1h-4zM210 204h8v1h-8zM111 205h4v1h-4zM118 205h1v1h-1zM164 205h5v1h-5zM205 205h3v1h-3zM210 205h7v1h-7zM111 206h4v1h-4zM164 206h6v1h-6zM205 206h4v1h-4zM212 206h4v1h-4zM229 206h3v1h-3zM112 207h3v1h-3zM165 207h6v1h-6zM205 207h4v1h-4zM214 207h2v1h-2zM228 207h4v1h-4zM112 208h3v1h-3zM165 208h7v1h-7zM206 208h3v1h-3zM228 208h5v1h-5zM113 209h2v1h-2zM164 209h8v1h-8zM206 209h3v1h-3zM228 209h5v1h-5zM164 210h8v1h-8zM206 210h1v1h-1zM216 210h1v1h-1zM229 210h4v1h-4zM164 211h8v1h-8zM216 211h2v1h-2zM229 211h5v1h-5zM165 212h7v1h-7zM207 212h1v1h-1zM216 212h2v1h-2zM229 212h6v1h-6zM165 213h7v1h-7zM207 213h1v1h-1zM216 213h3v1h-3zM230 213h5v1h-5zM166 214h7v1h-7zM207 214h1v1h-1zM217 214h2v1h-2zM230 214h6v1h-6zM166 215h7v1h-7zM217 215h3v1h-3zM230 215h6v1h-6zM166 216h7v1h-7zM208 216h1v1h-1zM218 216h2v1h-2zM229 216h8v1h-8zM167 217h7v1h-7zM178 217h2v1h-2zM229 217h8v1h-8zM167 218h7v1h-7zM178 218h3v1h-3zM229 218h9v1h-9zM167 219h8v1h-8zM178 219h6v1h-6zM229 219h10v1h-10zM168 220h7v1h-7zM179 220h7v1h-7zM229 220h9v1h-9zM168 221h7v1h-7zM180 221h6v1h-6zM229 221h8v1h-8zM169 222h6v1h-6zM229 222h8v1h-8zM170 223h5v1h-5zM229 223h8v1h-8zM170 224h5v1h-5zM230 224h6v1h-6zM172 225h1v1h-1zM230 225h6v1h-6zM231 226h5v1h-5zM231 227h4v1h-4zM231 228h4v1h-4zM231 229h4v1h-4zM115 230h2v1h-2zM231 230h4v1h-4zM115 231h2v1h-2zM218 231h2v1h-2zM231 231h4v1h-4zM116 232h2v1h-2zM218 232h3v1h-3zM231 232h4v1h-4zM116 233h3v1h-3zM219 233h3v1h-3zM231 233h4v1h-4zM116 234h3v1h-3zM220 234h2v1h-2zM231 234h4v1h-4zM116 235h4v1h-4zM175 235h3v1h-3zM221 235h2v1h-2zM230 235h6v1h-6zM117 236h3v1h-3zM176 236h2v1h-2zM222 236h2v1h-2zM231 236h5v1h-5zM117 237h4v1h-4zM177 237h1v1h-1zM223 237h1v1h-1zM231 237h6v1h-6zM117 238h4v1h-4zM224 238h1v1h-1zM232 238h5v1h-5zM118 239h3v1h-3zM233 239h5v1h-5zM119 240h2v1h-2zM153 240h1v1h-1zM233 240h5v1h-5zM120 241h1v1h-1zM153 241h2v1h-2zM234 241h4v1h-4zM120 242h1v1h-1zM154 242h2v1h-2zM234 242h5v1h-5zM120 243h2v1h-2zM155 243h1v1h-1zM234 243h4v1h-4zM239 243h2v1h-2zM120 244h3v1h-3zM235 244h2v1h-2zM240 244h2v1h-2zM120 245h4v1h-4zM221 245h2v1h-2zM240 245h3v1h-3zM120 246h4v1h-4zM221 246h5v1h-5zM240 246h4v1h-4zM121 247h4v1h-4zM164 247h1v1h-1zM221 247h5v1h-5zM241 247h3v1h-3zM121 248h4v1h-4zM164 248h1v1h-1zM187 248h3v1h-3zM221 248h6v1h-6zM242 248h2v1h-2zM121 249h3v1h-3zM152 249h1v1h-1zM165 249h1v1h-1zM187 249h4v1h-4zM221 249h7v1h-7zM243 249h1v1h-1zM122 250h1v1h-1zM152 250h2v1h-2zM188 250h4v1h-4zM221 250h7v1h-7zM152 251h2v1h-2zM188 251h5v1h-5zM221 251h8v1h-8zM153 252h1v1h-1zM188 252h5v1h-5zM222 252h7v1h-7zM130 253h2v1h-2zM189 253h4v1h-4zM222 253h8v1h-8zM130 254h3v1h-3zM189 254h4v1h-4zM223 254h7v1h-7zM130 255h3v1h-3zM189 255h3v1h-3zM225 255h5v1h-5zM130 256h3v1h-3zM188 256h4v1h-4zM226 256h4v1h-4zM131 257h2v1h-2zM188 257h4v1h-4zM228 257h2v1h-2zM188 258h5v1h-5zM155 259h1v1h-1zM189 259h5v1h-5zM155 260h2v1h-2zM190 260h4v1h-4zM201 260h3v1h-3zM155 261h2v1h-2zM170 261h1v1h-1zM190 261h5v1h-5zM201 261h4v1h-4zM155 262h2v1h-2zM169 262h3v1h-3zM191 262h4v1h-4zM201 262h4v1h-4zM156 263h1v1h-1zM170 263h3v1h-3zM192 263h4v1h-4zM202 263h3v1h-3zM170 264h3v1h-3zM193 264h3v1h-3zM202 264h3v1h-3zM222 264h1v1h-1zM170 265h4v1h-4zM194 265h3v1h-3zM204 265h1v1h-1zM222 265h2v1h-2zM171 266h2v1h-2zM194 266h3v1h-3zM222 266h2v1h-2zM129 267h3v1h-3zM195 267h2v1h-2zM223 267h2v1h-2zM129 268h3v1h-3zM223 268h3v1h-3zM250 268h2v1h-2zM130 269h2v1h-2zM224 269h2v1h-2zM250 269h2v1h-2zM225 270h2v1h-2zM251 270h2v1h-2zM226 271h1v1h-1zM232 272h1v1h-1zM232 273h1v1h-1zM232 274h1v1h-1zM243 274h3v1h-3zM243 275h4v1h-4zM244 276h3v1h-3zM244 277h3v1h-3zM246 278h1v1h-1zM152 282h1v1h-1zM151 283h3v1h-3zM151 284h3v1h-3zM172 284h2v1h-2zM145 285h1v1h-1zM151 285h4v1h-4zM172 285h3v1h-3zM144 286h3v1h-3zM151 286h4v1h-4zM172 286h4v1h-4zM253 286h1v1h-1zM145 287h2v1h-2zM152 287h4v1h-4zM159 287h2v1h-2zM172 287h4v1h-4zM253 287h2v1h-2zM145 288h3v1h-3zM152 288h10v1h-10zM172 288h4v1h-4zM254 288h1v1h-1zM145 289h3v1h-3zM153 289h9v1h-9zM170 289h6v1h-6zM145 290h3v1h-3zM154 290h8v1h-8zM170 290h6v1h-6zM146 291h3v1h-3zM154 291h7v1h-7zM170 291h7v1h-7zM147 292h2v1h-2zM155 292h7v1h-7zM170 292h7v1h-7zM156 293h6v1h-6zM170 293h7v1h-7zM156 294h6v1h-6zM171 294h6v1h-6zM156 295h6v1h-6zM171 295h7v1h-7zM202 295h1v1h-1zM157 296h5v1h-5zM172 296h6v1h-6zM202 296h2v1h-2zM157 297h5v1h-5zM172 297h7v1h-7zM202 297h3v1h-3zM157 298h3v1h-3zM173 298h7v1h-7zM202 298h4v1h-4zM158 299h2v1h-2zM174 299h6v1h-6zM202 299h4v1h-4zM159 300h1v1h-1zM174 300h7v1h-7zM202 300h5v1h-5zM175 301h6v1h-6zM202 301h5v1h-5zM176 302h5v1h-5zM202 302h5v1h-5zM177 303h4v1h-4zM203 303h4v1h-4zM177 304h4v1h-4zM203 304h4v1h-4zM178 305h3v1h-3zM204 305h3v1h-3zM204 306h3v1h-3zM228 306h2v1h-2zM205 307h2v1h-2zM227 307h4v1h-4zM237 307h2v1h-2zM206 308h1v1h-1zM227 308h5v1h-5zM237 308h2v1h-2zM228 309h11v1h-11zM186 310h1v1h-1zM228 310h9v1h-9zM156 311h2v1h-2zM185 311h3v1h-3zM229 311h8v1h-8zM157 312h2v1h-2zM183 312h5v1h-5zM229 312h8v1h-8zM157 313h3v1h-3zM183 313h6v1h-6zM220 313h1v1h-1zM230 313h8v1h-8zM158 314h2v1h-2zM183 314h6v1h-6zM220 314h2v1h-2zM230 314h8v1h-8zM253 314h1v1h-1zM159 315h1v1h-1zM183 315h6v1h-6zM221 315h1v1h-1zM231 315h8v1h-8zM253 315h2v1h-2zM160 316h1v1h-1zM183 316h6v1h-6zM221 316h2v1h-2zM231 316h9v1h-9zM252 316h3v1h-3zM184 317h5v1h-5zM222 317h1v1h-1zM232 317h10v1h-10zM252 317h3v1h-3zM185 318h5v1h-5zM223 318h1v1h-1zM232 318h5v1h-5zM239 318h4v1h-4zM251 318h3v1h-3zM162 319h1v1h-1zM167 319h1v1h-1zM187 319h2v1h-2zM223 319h3v1h-3zM232 319h4v1h-4zM240 319h3v1h-3zM250 319h4v1h-4zM163 320h2v1h-2zM166 320h3v1h-3zM223 320h4v1h-4zM233 320h3v1h-3zM241 320h2v1h-2zM250 320h4v1h-4zM164 321h5v1h-5zM223 321h4v1h-4zM233 321h4v1h-4zM250 321h5v1h-5zM165 322h4v1h-4zM182 322h1v1h-1zM224 322h3v1h-3zM234 322h3v1h-3zM253 322h2v1h-2zM166 323h4v1h-4zM182 323h2v1h-2zM224 323h3v1h-3zM235 323h1v1h-1zM255 323h1v1h-1zM167 324h3v1h-3zM178 324h2v1h-2zM181 324h3v1h-3zM225 324h2v1h-2zM168 325h3v1h-3zM178 325h6v1h-6zM232 325h1v1h-1zM169 326h2v1h-2zM178 326h6v1h-6zM170 327h2v1h-2zM179 327h5v1h-5zM171 328h2v1h-2zM182 328h2v1h-2zM222 328h1v1h-1zM172 329h1v1h-1zM221 329h3v1h-3zM233 329h4v1h-4zM221 330h3v1h-3zM233 330h5v1h-5zM185 331h1v1h-1zM221 331h3v1h-3zM232 331h7v1h-7zM185 332h2v1h-2zM222 332h3v1h-3zM230 332h13v1h-13zM177 333h1v1h-1zM185 333h3v1h-3zM222 333h3v1h-3zM230 333h13v1h-13zM185 334h3v1h-3zM192 334h1v1h-1zM223 334h3v1h-3zM230 334h14v1h-14zM185 335h3v1h-3zM192 335h2v1h-2zM223 335h3v1h-3zM231 335h13v1h-13zM185 336h3v1h-3zM193 336h1v1h-1zM224 336h3v1h-3zM231 336h13v1h-13zM181 337h2v1h-2zM186 337h2v1h-2zM225 337h3v1h-3zM231 337h12v1h-12zM187 338h1v1h-1zM225 338h3v1h-3zM232 338h11v1h-11zM226 339h3v1h-3zM232 339h11v1h-11zM227 340h1v1h-1zM232 340h11v1h-11zM202 341h1v1h-1zM232 341h12v1h-12zM247 341h1v1h-1zM201 342h3v1h-3zM232 342h12v1h-12zM201 343h3v1h-3zM233 343h11v1h-11zM202 344h3v1h-3zM233 344h4v1h-4zM239 344h6v1h-6zM202 345h3v1h-3zM233 345h4v1h-4zM240 345h4v1h-4zM203 346h2v1h-2zM233 346h4v1h-4zM241 346h1v1h-1zM233 347h4v1h-4zM234 348h4v1h-4zM235 349h3v1h-3z" fill="rgb(98,46,92)" transform="scale(3)" shape-rendering="crispEdges"/><path d="M149 125h5v1h-5zM142 126h19v1h-19zM139 127h26v1h-26zM136 128h30v1h-30zM134 129h37v1h-37zM132 130h41v1h-41zM130 131h45v1h-45zM129 132h48v1h-48zM128 133h51v1h-51zM127 134h44v1h-44zM174 134h7v1h-7zM128 135h43v1h-43zM175 135h7v1h-7zM128 136h43v1h-43zM175 136h9v1h-9zM129 137h42v1h-42zM175 137h11v1h-11zM122 138h2v1h-2zM129 138h43v1h-43zM174 138h13v1h-13zM122 139h3v1h-3zM129 139h59v1h-59zM121 140h5v1h-5zM129 140h53v1h-53zM185 140h5v1h-5zM120 141h7v1h-7zM128 141h54v1h-54zM185 141h6v1h-6zM119 142h18v1h-18zM138 142h44v1h-44zM183 142h1v1h-1zM185 142h7v1h-7zM119 143h63v1h-63zM185 143h9v1h-9zM118 144h64v1h-64zM185 144h10v1h-10zM117 145h65v1h-65zM185 145h11v1h-11zM117 146h65v1h-65zM184 146h13v1h-13zM116 147h17v1h-17zM136 147h47v1h-47zM184 147h14v1h-14zM116 148h22v1h-22zM140 148h59v1h-59zM117 149h21v1h-21zM141 149h32v1h-32zM175 149h5v1h-5zM182 149h18v1h-18zM114 150h1v1h-1zM118 150h20v1h-20zM141 150h33v1h-33zM175 150h4v1h-4zM182 150h20v1h-20zM114 151h1v1h-1zM119 151h21v1h-21zM141 151h33v1h-33zM176 151h4v1h-4zM181 151h22v1h-22zM114 152h1v1h-1zM120 152h55v1h-55zM177 152h27v1h-27zM113 153h2v1h-2zM121 153h54v1h-54zM178 153h27v1h-27zM121 154h21v1h-21zM143 154h34v1h-34zM179 154h13v1h-13zM193 154h13v1h-13zM120 155h21v1h-21zM144 155h33v1h-33zM180 155h12v1h-12zM194 155h13v1h-13zM119 156h22v1h-22zM144 156h34v1h-34zM181 156h11v1h-11zM196 156h11v1h-11zM119 157h22v1h-22zM144 157h37v1h-37zM182 157h10v1h-10zM197 157h11v1h-11zM113 158h1v1h-1zM120 158h22v1h-22zM145 158h46v1h-46zM198 158h11v1h-11zM114 159h1v1h-1zM116 159h1v1h-1zM120 159h13v1h-13zM135 159h7v1h-7zM145 159h46v1h-46zM199 159h11v1h-11zM116 160h1v1h-1zM119 160h14v1h-14zM136 160h55v1h-55zM200 160h11v1h-11zM110 161h3v1h-3zM118 161h16v1h-16zM136 161h15v1h-15zM152 161h39v1h-39zM201 161h11v1h-11zM110 162h40v1h-40zM153 162h38v1h-38zM201 162h12v1h-12zM110 163h39v1h-39zM155 163h36v1h-36zM202 163h12v1h-12zM109 164h39v1h-39zM158 164h4v1h-4zM163 164h28v1h-28zM202 164h13v1h-13zM109 165h39v1h-39zM158 165h4v1h-4zM164 165h22v1h-22zM188 165h3v1h-3zM205 165h10v1h-10zM109 166h29v1h-29zM140 166h8v1h-8zM158 166h4v1h-4zM164 166h21v1h-21zM189 166h2v1h-2zM205 166h11v1h-11zM108 167h30v1h-30zM140 167h8v1h-8zM160 167h2v1h-2zM165 167h20v1h-20zM205 167h12v1h-12zM108 168h30v1h-30zM141 168h7v1h-7zM160 168h2v1h-2zM165 168h20v1h-20zM205 168h13v1h-13zM108 169h29v1h-29zM142 169h6v1h-6zM149 169h1v1h-1zM161 169h2v1h-2zM165 169h21v1h-21zM197 169h1v1h-1zM203 169h15v1h-15zM108 170h28v1h-28zM142 170h6v1h-6zM161 170h12v1h-12zM175 170h12v1h-12zM202 170h17v1h-17zM108 171h27v1h-27zM144 171h4v1h-4zM161 171h11v1h-11zM176 171h12v1h-12zM201 171h19v1h-19zM107 172h28v1h-28zM162 172h10v1h-10zM176 172h12v1h-12zM200 172h21v1h-21zM107 173h20v1h-20zM129 173h6v1h-6zM162 173h9v1h-9zM177 173h12v1h-12zM200 173h21v1h-21zM107 174h4v1h-4zM112 174h15v1h-15zM131 174h4v1h-4zM178 174h11v1h-11zM194 174h2v1h-2zM201 174h20v1h-20zM107 175h4v1h-4zM112 175h16v1h-16zM133 175h4v1h-4zM178 175h12v1h-12zM193 175h5v1h-5zM201 175h20v1h-20zM107 176h3v1h-3zM113 176h15v1h-15zM133 176h5v1h-5zM179 176h13v1h-13zM193 176h5v1h-5zM199 176h1v1h-1zM202 176h19v1h-19zM107 177h3v1h-3zM114 177h14v1h-14zM134 177h5v1h-5zM151 177h2v1h-2zM179 177h20v1h-20zM203 177h19v1h-19zM108 178h1v1h-1zM115 178h14v1h-14zM135 178h5v1h-5zM151 178h3v1h-3zM179 178h14v1h-14zM196 178h4v1h-4zM203 178h20v1h-20zM115 179h14v1h-14zM151 179h4v1h-4zM179 179h14v1h-14zM197 179h27v1h-27zM115 180h15v1h-15zM151 180h7v1h-7zM168 180h1v1h-1zM180 180h13v1h-13zM198 180h27v1h-27zM116 181h6v1h-6zM125 181h8v1h-8zM151 181h8v1h-8zM161 181h3v1h-3zM168 181h2v1h-2zM181 181h13v1h-13zM198 181h27v1h-27zM106 182h3v1h-3zM116 182h4v1h-4zM127 182h8v1h-8zM151 182h9v1h-9zM161 182h3v1h-3zM169 182h5v1h-5zM179 182h1v1h-1zM182 182h44v1h-44zM106 183h4v1h-4zM115 183h5v1h-5zM128 183h8v1h-8zM151 183h9v1h-9zM170 183h8v1h-8zM179 183h2v1h-2zM183 183h43v1h-43zM106 184h6v1h-6zM114 184h6v1h-6zM128 184h8v1h-8zM152 184h9v1h-9zM170 184h9v1h-9zM180 184h1v1h-1zM183 184h44v1h-44zM106 185h14v1h-14zM129 185h8v1h-8zM154 185h7v1h-7zM171 185h9v1h-9zM183 185h47v1h-47zM106 186h14v1h-14zM129 186h8v1h-8zM155 186h5v1h-5zM172 186h8v1h-8zM182 186h48v1h-48zM106 187h14v1h-14zM129 187h9v1h-9zM156 187h4v1h-4zM172 187h8v1h-8zM182 187h49v1h-49zM107 188h13v1h-13zM130 188h8v1h-8zM149 188h2v1h-2zM157 188h2v1h-2zM173 188h7v1h-7zM183 188h20v1h-20zM205 188h10v1h-10zM217 188h14v1h-14zM107 189h13v1h-13zM131 189h8v1h-8zM149 189h3v1h-3zM157 189h1v1h-1zM174 189h6v1h-6zM183 189h21v1h-21zM205 189h2v1h-2zM208 189h7v1h-7zM217 189h15v1h-15zM107 190h13v1h-13zM132 190h7v1h-7zM148 190h4v1h-4zM175 190h5v1h-5zM183 190h23v1h-23zM210 190h5v1h-5zM218 190h15v1h-15zM107 191h13v1h-13zM135 191h4v1h-4zM149 191h3v1h-3zM176 191h4v1h-4zM184 191h22v1h-22zM211 191h4v1h-4zM218 191h15v1h-15zM108 192h12v1h-12zM136 192h3v1h-3zM150 192h2v1h-2zM177 192h2v1h-2zM184 192h23v1h-23zM213 192h21v1h-21zM108 193h8v1h-8zM118 193h2v1h-2zM150 193h2v1h-2zM184 193h6v1h-6zM194 193h13v1h-13zM213 193h21v1h-21zM108 194h6v1h-6zM119 194h1v1h-1zM151 194h2v1h-2zM183 194h7v1h-7zM195 194h12v1h-12zM214 194h21v1h-21zM109 195h4v1h-4zM119 195h2v1h-2zM151 195h3v1h-3zM183 195h7v1h-7zM195 195h13v1h-13zM214 195h21v1h-21zM109 196h2v1h-2zM115 196h2v1h-2zM119 196h3v1h-3zM151 196h4v1h-4zM182 196h9v1h-9zM196 196h12v1h-12zM214 196h19v1h-19zM110 197h1v1h-1zM114 197h10v1h-10zM151 197h6v1h-6zM182 197h10v1h-10zM196 197h13v1h-13zM214 197h18v1h-18zM110 198h1v1h-1zM113 198h10v1h-10zM124 198h1v1h-1zM150 198h8v1h-8zM182 198h27v1h-27zM214 198h17v1h-17zM113 199h11v1h-11zM125 199h1v1h-1zM150 199h8v1h-8zM182 199h27v1h-27zM215 199h16v1h-16zM113 200h11v1h-11zM150 200h8v1h-8zM183 200h26v1h-26zM216 200h15v1h-15zM113 201h11v1h-11zM125 201h1v1h-1zM150 201h8v1h-8zM183 201h20v1h-20zM206 201h3v1h-3zM216 201h15v1h-15zM113 202h11v1h-11zM125 202h1v1h-1zM133 202h1v1h-1zM142 202h2v1h-2zM150 202h8v1h-8zM170 202h1v1h-1zM184 202h19v1h-19zM206 202h3v1h-3zM216 202h15v1h-15zM113 203h11v1h-11zM137 203h3v1h-3zM143 203h1v1h-1zM148 203h10v1h-10zM170 203h1v1h-1zM185 203h19v1h-19zM207 203h2v1h-2zM216 203h15v1h-15zM113 204h11v1h-11zM137 204h4v1h-4zM143 204h2v1h-2zM148 204h10v1h-10zM170 204h2v1h-2zM187 204h17v1h-17zM208 204h2v1h-2zM217 204h14v1h-14zM109 205h2v1h-2zM113 205h9v1h-9zM137 205h4v1h-4zM144 205h1v1h-1zM149 205h1v1h-1zM151 205h7v1h-7zM170 205h2v1h-2zM188 205h16v1h-16zM208 205h2v1h-2zM217 205h10v1h-10zM230 205h1v1h-1zM234 205h1v1h-1zM239 205h2v1h-2zM109 206h2v1h-2zM113 206h8v1h-8zM144 206h1v1h-1zM153 206h5v1h-5zM172 206h1v1h-1zM184 206h1v1h-1zM189 206h15v1h-15zM209 206h3v1h-3zM216 206h9v1h-9zM234 206h3v1h-3zM240 206h1v1h-1zM109 207h3v1h-3zM113 207h8v1h-8zM154 207h4v1h-4zM184 207h2v1h-2zM189 207h15v1h-15zM216 207h8v1h-8zM234 207h4v1h-4zM241 207h1v1h-1zM110 208h11v1h-11zM155 208h3v1h-3zM184 208h2v1h-2zM189 208h15v1h-15zM216 208h6v1h-6zM225 208h1v1h-1zM233 208h5v1h-5zM110 209h4v1h-4zM115 209h6v1h-6zM156 209h3v1h-3zM189 209h15v1h-15zM217 209h6v1h-6zM234 209h4v1h-4zM242 209h1v1h-1zM110 210h10v1h-10zM158 210h1v1h-1zM190 210h15v1h-15zM218 210h6v1h-6zM234 210h5v1h-5zM242 210h1v1h-1zM110 211h7v1h-7zM122 211h2v1h-2zM191 211h14v1h-14zM218 211h7v1h-7zM236 211h8v1h-8zM110 212h6v1h-6zM123 212h1v1h-1zM138 212h3v1h-3zM193 212h12v1h-12zM218 212h7v1h-7zM237 212h7v1h-7zM111 213h5v1h-5zM138 213h3v1h-3zM145 213h1v1h-1zM193 213h1v1h-1zM195 213h10v1h-10zM219 213h7v1h-7zM237 213h8v1h-8zM111 214h4v1h-4zM129 214h4v1h-4zM138 214h4v1h-4zM185 214h3v1h-3zM192 214h3v1h-3zM196 214h9v1h-9zM219 214h7v1h-7zM237 214h8v1h-8zM111 215h4v1h-4zM130 215h3v1h-3zM138 215h4v1h-4zM184 215h4v1h-4zM192 215h3v1h-3zM197 215h8v1h-8zM220 215h7v1h-7zM237 215h9v1h-9zM112 216h2v1h-2zM131 216h2v1h-2zM138 216h4v1h-4zM184 216h4v1h-4zM193 216h1v1h-1zM198 216h7v1h-7zM220 216h7v1h-7zM237 216h9v1h-9zM138 217h4v1h-4zM184 217h4v1h-4zM200 217h5v1h-5zM219 217h9v1h-9zM237 217h10v1h-10zM138 218h4v1h-4zM183 218h5v1h-5zM201 218h4v1h-4zM219 218h10v1h-10zM238 218h9v1h-9zM139 219h4v1h-4zM184 219h4v1h-4zM202 219h3v1h-3zM220 219h9v1h-9zM239 219h8v1h-8zM139 220h4v1h-4zM186 220h2v1h-2zM202 220h3v1h-3zM220 220h1v1h-1zM222 220h7v1h-7zM238 220h10v1h-10zM139 221h4v1h-4zM186 221h2v1h-2zM218 221h1v1h-1zM222 221h7v1h-7zM237 221h11v1h-11zM113 222h2v1h-2zM118 222h4v1h-4zM140 222h3v1h-3zM152 222h1v1h-1zM163 222h2v1h-2zM183 222h2v1h-2zM222 222h8v1h-8zM237 222h2v1h-2zM242 222h7v1h-7zM113 223h3v1h-3zM118 223h5v1h-5zM142 223h1v1h-1zM183 223h2v1h-2zM222 223h8v1h-8zM237 223h2v1h-2zM242 223h7v1h-7zM113 224h11v1h-11zM223 224h7v1h-7zM232 224h3v1h-3zM236 224h4v1h-4zM241 224h8v1h-8zM113 225h12v1h-12zM223 225h7v1h-7zM233 225h17v1h-17zM114 226h13v1h-13zM216 226h1v1h-1zM224 226h7v1h-7zM233 226h17v1h-17zM114 227h13v1h-13zM215 227h3v1h-3zM225 227h6v1h-6zM234 227h17v1h-17zM114 228h14v1h-14zM215 228h4v1h-4zM226 228h5v1h-5zM234 228h17v1h-17zM115 229h14v1h-14zM214 229h5v1h-5zM224 229h1v1h-1zM226 229h5v1h-5zM235 229h16v1h-16zM115 230h15v1h-15zM213 230h7v1h-7zM224 230h2v1h-2zM227 230h4v1h-4zM235 230h17v1h-17zM116 231h15v1h-15zM210 231h9v1h-9zM225 231h1v1h-1zM227 231h4v1h-4zM235 231h17v1h-17zM118 232h13v1h-13zM173 232h1v1h-1zM210 232h9v1h-9zM227 232h4v1h-4zM235 232h18v1h-18zM119 233h12v1h-12zM173 233h2v1h-2zM210 233h9v1h-9zM226 233h5v1h-5zM235 233h18v1h-18zM119 234h12v1h-12zM180 234h1v1h-1zM210 234h10v1h-10zM226 234h5v1h-5zM235 234h18v1h-18zM120 235h11v1h-11zM178 235h2v1h-2zM188 235h1v1h-1zM210 235h10v1h-10zM225 235h5v1h-5zM236 235h18v1h-18zM120 236h11v1h-11zM178 236h2v1h-2zM210 236h10v1h-10zM221 236h1v1h-1zM224 236h7v1h-7zM236 236h18v1h-18zM121 237h10v1h-10zM211 237h8v1h-8zM222 237h1v1h-1zM224 237h7v1h-7zM237 237h17v1h-17zM122 238h9v1h-9zM212 238h7v1h-7zM225 238h7v1h-7zM237 238h18v1h-18zM124 239h7v1h-7zM216 239h3v1h-3zM225 239h8v1h-8zM238 239h17v1h-17zM126 240h5v1h-5zM217 240h2v1h-2zM225 240h8v1h-8zM238 240h10v1h-10zM249 240h6v1h-6zM129 241h2v1h-2zM225 241h9v1h-9zM238 241h18v1h-18zM130 242h1v1h-1zM225 242h9v1h-9zM239 242h17v1h-17zM134 243h1v1h-1zM202 243h2v1h-2zM225 243h9v1h-9zM238 243h1v1h-1zM241 243h15v1h-15zM139 244h1v1h-1zM202 244h2v1h-2zM225 244h10v1h-10zM237 244h3v1h-3zM242 244h15v1h-15zM139 245h2v1h-2zM171 245h2v1h-2zM186 245h1v1h-1zM202 245h2v1h-2zM226 245h14v1h-14zM243 245h14v1h-14zM140 246h1v1h-1zM165 246h2v1h-2zM171 246h2v1h-2zM186 246h2v1h-2zM202 246h2v1h-2zM226 246h14v1h-14zM244 246h13v1h-13zM132 247h9v1h-9zM165 247h2v1h-2zM187 247h1v1h-1zM202 247h2v1h-2zM226 247h14v1h-14zM244 247h13v1h-13zM132 248h9v1h-9zM146 248h1v1h-1zM165 248h3v1h-3zM171 248h2v1h-2zM181 248h1v1h-1zM202 248h3v1h-3zM227 248h13v1h-13zM244 248h14v1h-14zM132 249h9v1h-9zM146 249h1v1h-1zM164 249h1v1h-1zM171 249h3v1h-3zM181 249h2v1h-2zM198 249h2v1h-2zM228 249h12v1h-12zM244 249h7v1h-7zM253 249h5v1h-5zM127 250h3v1h-3zM132 250h10v1h-10zM151 250h1v1h-1zM172 250h3v1h-3zM181 250h5v1h-5zM199 250h1v1h-1zM220 250h1v1h-1zM228 250h12v1h-12zM244 250h6v1h-6zM126 251h16v1h-16zM154 251h1v1h-1zM172 251h3v1h-3zM182 251h6v1h-6zM191 251h1v1h-1zM220 251h1v1h-1zM228 251h13v1h-13zM244 251h6v1h-6zM127 252h15v1h-15zM154 252h1v1h-1zM173 252h1v1h-1zM184 252h4v1h-4zM190 252h3v1h-3zM221 252h1v1h-1zM227 252h14v1h-14zM244 252h6v1h-6zM127 253h3v1h-3zM132 253h10v1h-10zM154 253h2v1h-2zM185 253h4v1h-4zM191 253h2v1h-2zM221 253h1v1h-1zM226 253h16v1h-16zM243 253h7v1h-7zM127 254h3v1h-3zM133 254h10v1h-10zM193 254h1v1h-1zM217 254h1v1h-1zM222 254h1v1h-1zM226 254h25v1h-25zM252 254h1v1h-1zM128 255h2v1h-2zM133 255h5v1h-5zM141 255h2v1h-2zM217 255h2v1h-2zM224 255h27v1h-27zM129 256h1v1h-1zM131 256h6v1h-6zM142 256h1v1h-1zM149 256h1v1h-1zM217 256h3v1h-3zM224 256h28v1h-28zM129 257h8v1h-8zM148 257h4v1h-4zM217 257h4v1h-4zM224 257h28v1h-28zM129 258h8v1h-8zM148 258h5v1h-5zM217 258h4v1h-4zM224 258h29v1h-29zM130 259h8v1h-8zM143 259h1v1h-1zM149 259h6v1h-6zM218 259h3v1h-3zM224 259h32v1h-32zM130 260h8v1h-8zM143 260h2v1h-2zM150 260h5v1h-5zM157 260h1v1h-1zM219 260h2v1h-2zM225 260h15v1h-15zM242 260h16v1h-16zM130 261h9v1h-9zM141 261h4v1h-4zM151 261h4v1h-4zM157 261h2v1h-2zM169 261h1v1h-1zM215 261h1v1h-1zM225 261h15v1h-15zM243 261h15v1h-15zM130 262h16v1h-16zM158 262h1v1h-1zM178 262h1v1h-1zM216 262h1v1h-1zM226 262h14v1h-14zM244 262h15v1h-15zM131 263h15v1h-15zM169 263h1v1h-1zM178 263h2v1h-2zM191 263h1v1h-1zM226 263h11v1h-11zM238 263h2v1h-2zM245 263h15v1h-15zM131 264h16v1h-16zM179 264h2v1h-2zM191 264h2v1h-2zM227 264h10v1h-10zM239 264h1v1h-1zM246 264h14v1h-14zM132 265h15v1h-15zM191 265h3v1h-3zM228 265h9v1h-9zM239 265h2v1h-2zM247 265h13v1h-13zM133 266h14v1h-14zM170 266h1v1h-1zM191 266h3v1h-3zM228 266h4v1h-4zM233 266h8v1h-8zM247 266h13v1h-13zM133 267h14v1h-14zM171 267h2v1h-2zM191 267h3v1h-3zM197 267h1v1h-1zM230 267h1v1h-1zM234 267h26v1h-26zM134 268h12v1h-12zM171 268h3v1h-3zM181 268h1v1h-1zM191 268h2v1h-2zM197 268h1v1h-1zM235 268h15v1h-15zM252 268h8v1h-8zM134 269h12v1h-12zM181 269h1v1h-1zM191 269h1v1h-1zM223 269h1v1h-1zM226 269h1v1h-1zM236 269h14v1h-14zM252 269h9v1h-9zM262 269h1v1h-1zM134 270h12v1h-12zM181 270h2v1h-2zM187 270h1v1h-1zM223 270h2v1h-2zM227 270h1v1h-1zM237 270h14v1h-14zM253 270h10v1h-10zM134 271h13v1h-13zM187 271h2v1h-2zM224 271h2v1h-2zM227 271h2v1h-2zM240 271h23v1h-23zM133 272h14v1h-14zM188 272h2v1h-2zM224 272h5v1h-5zM240 272h23v1h-23zM132 273h16v1h-16zM188 273h2v1h-2zM225 273h5v1h-5zM240 273h24v1h-24zM132 274h17v1h-17zM189 274h1v1h-1zM225 274h6v1h-6zM240 274h3v1h-3zM246 274h18v1h-18zM133 275h15v1h-15zM221 275h1v1h-1zM225 275h6v1h-6zM240 275h3v1h-3zM247 275h17v1h-17zM133 276h15v1h-15zM156 276h2v1h-2zM221 276h2v1h-2zM225 276h7v1h-7zM241 276h3v1h-3zM247 276h17v1h-17zM134 277h15v1h-15zM156 277h2v1h-2zM225 277h8v1h-8zM241 277h3v1h-3zM247 277h17v1h-17zM135 278h14v1h-14zM157 278h2v1h-2zM212 278h2v1h-2zM225 278h9v1h-9zM241 278h5v1h-5zM247 278h17v1h-17zM136 279h14v1h-14zM158 279h3v1h-3zM209 279h1v1h-1zM213 279h2v1h-2zM226 279h8v1h-8zM242 279h23v1h-23zM136 280h14v1h-14zM158 280h4v1h-4zM209 280h2v1h-2zM213 280h2v1h-2zM226 280h9v1h-9zM241 280h24v1h-24zM137 281h14v1h-14zM158 281h5v1h-5zM210 281h5v1h-5zM228 281h7v1h-7zM240 281h25v1h-25zM137 282h14v1h-14zM158 282h5v1h-5zM211 282h3v1h-3zM231 282h5v1h-5zM238 282h27v1h-27zM138 283h13v1h-13zM158 283h5v1h-5zM212 283h2v1h-2zM233 283h3v1h-3zM238 283h10v1h-10zM252 283h13v1h-13zM138 284h13v1h-13zM157 284h7v1h-7zM212 284h1v1h-1zM234 284h14v1h-14zM252 284h13v1h-13zM139 285h6v1h-6zM146 285h6v1h-6zM157 285h7v1h-7zM234 285h3v1h-3zM238 285h10v1h-10zM253 285h12v1h-12zM139 286h5v1h-5zM147 286h6v1h-6zM157 286h7v1h-7zM234 286h13v1h-13zM254 286h12v1h-12zM139 287h1v1h-1zM143 287h2v1h-2zM147 287h6v1h-6zM157 287h6v1h-6zM234 287h4v1h-4zM240 287h7v1h-7zM255 287h11v1h-11zM140 288h1v1h-1zM148 288h6v1h-6zM160 288h1v1h-1zM162 288h1v1h-1zM234 288h5v1h-5zM240 288h6v1h-6zM253 288h1v1h-1zM255 288h11v1h-11zM149 289h5v1h-5zM162 289h1v1h-1zM206 289h2v1h-2zM222 289h2v1h-2zM234 289h8v1h-8zM253 289h8v1h-8zM263 289h3v1h-3zM141 290h1v1h-1zM150 290h4v1h-4zM162 290h1v1h-1zM205 290h4v1h-4zM222 290h3v1h-3zM234 290h4v1h-4zM254 290h6v1h-6zM264 290h2v1h-2zM150 291h4v1h-4zM162 291h1v1h-1zM206 291h4v1h-4zM222 291h4v1h-4zM234 291h4v1h-4zM255 291h5v1h-5zM151 292h4v1h-4zM162 292h1v1h-1zM206 292h5v1h-5zM222 292h5v1h-5zM234 292h2v1h-2zM256 292h4v1h-4zM165 293h2v1h-2zM169 293h1v1h-1zM206 293h5v1h-5zM222 293h6v1h-6zM233 293h2v1h-2zM257 293h3v1h-3zM165 294h2v1h-2zM170 294h1v1h-1zM207 294h5v1h-5zM222 294h7v1h-7zM232 294h4v1h-4zM258 294h2v1h-2zM165 295h2v1h-2zM207 295h5v1h-5zM222 295h15v1h-15zM243 295h4v1h-4zM250 295h2v1h-2zM259 295h1v1h-1zM208 296h4v1h-4zM222 296h16v1h-16zM241 296h12v1h-12zM259 296h2v1h-2zM209 297h4v1h-4zM223 297h31v1h-31zM259 297h2v1h-2zM149 298h2v1h-2zM209 298h4v1h-4zM219 298h1v1h-1zM223 298h32v1h-32zM257 298h4v1h-4zM149 299h2v1h-2zM160 299h1v1h-1zM185 299h2v1h-2zM211 299h2v1h-2zM223 299h39v1h-39zM265 299h1v1h-1zM150 300h1v1h-1zM160 300h2v1h-2zM186 300h2v1h-2zM212 300h2v1h-2zM223 300h40v1h-40zM264 300h1v1h-1zM159 301h3v1h-3zM174 301h1v1h-1zM186 301h2v1h-2zM212 301h3v1h-3zM221 301h1v1h-1zM224 301h41v1h-41zM155 302h8v1h-8zM175 302h1v1h-1zM212 302h4v1h-4zM222 302h1v1h-1zM224 302h41v1h-41zM155 303h8v1h-8zM166 303h2v1h-2zM212 303h4v1h-4zM225 303h40v1h-40zM154 304h10v1h-10zM165 304h3v1h-3zM211 304h5v1h-5zM226 304h39v1h-39zM154 305h16v1h-16zM198 305h1v1h-1zM211 305h5v1h-5zM227 305h38v1h-38zM155 306h19v1h-19zM210 306h6v1h-6zM229 306h35v1h-35zM155 307h22v1h-22zM199 307h1v1h-1zM210 307h6v1h-6zM230 307h34v1h-34zM155 308h23v1h-23zM198 308h2v1h-2zM210 308h7v1h-7zM231 308h33v1h-33zM155 309h24v1h-24zM197 309h3v1h-3zM210 309h15v1h-15zM231 309h33v1h-33zM155 310h25v1h-25zM196 310h4v1h-4zM211 310h15v1h-15zM232 310h32v1h-32zM156 311h24v1h-24zM196 311h4v1h-4zM206 311h1v1h-1zM211 311h18v1h-18zM232 311h31v1h-31zM156 312h24v1h-24zM198 312h2v1h-2zM211 312h18v1h-18zM231 312h32v1h-32zM157 313h23v1h-23zM199 313h1v1h-1zM211 313h19v1h-19zM231 313h32v1h-32zM158 314h22v1h-22zM211 314h52v1h-52zM159 315h21v1h-21zM196 315h1v1h-1zM212 315h23v1h-23zM236 315h26v1h-26zM160 316h6v1h-6zM169 316h11v1h-11zM196 316h1v1h-1zM203 316h2v1h-2zM212 316h9v1h-9zM223 316h39v1h-39zM161 317h4v1h-4zM171 317h10v1h-10zM203 317h2v1h-2zM212 317h10v1h-10zM223 317h18v1h-18zM242 317h20v1h-20zM162 318h3v1h-3zM172 318h9v1h-9zM203 318h2v1h-2zM213 318h10v1h-10zM224 318h17v1h-17zM243 318h18v1h-18zM163 319h2v1h-2zM174 319h7v1h-7zM204 319h1v1h-1zM213 319h10v1h-10zM226 319h35v1h-35zM165 320h1v1h-1zM175 320h6v1h-6zM190 320h2v1h-2zM204 320h1v1h-1zM214 320h9v1h-9zM226 320h35v1h-35zM176 321h6v1h-6zM189 321h4v1h-4zM215 321h8v1h-8zM225 321h35v1h-35zM177 322h5v1h-5zM189 322h4v1h-4zM216 322h44v1h-44zM177 323h5v1h-5zM190 323h3v1h-3zM200 323h2v1h-2zM216 323h43v1h-43zM176 324h2v1h-2zM180 324h1v1h-1zM202 324h1v1h-1zM217 324h42v1h-42zM171 325h1v1h-1zM176 325h2v1h-2zM203 325h1v1h-1zM218 325h41v1h-41zM171 326h1v1h-1zM176 326h2v1h-2zM203 326h1v1h-1zM218 326h40v1h-40zM172 327h1v1h-1zM203 327h2v1h-2zM219 327h39v1h-39zM203 328h2v1h-2zM209 328h1v1h-1zM220 328h2v1h-2zM224 328h33v1h-33zM204 329h1v1h-1zM209 329h2v1h-2zM225 329h8v1h-8zM236 329h21v1h-21zM190 330h2v1h-2zM210 330h1v1h-1zM226 330h7v1h-7zM238 330h18v1h-18zM187 331h1v1h-1zM191 331h1v1h-1zM224 331h1v1h-1zM226 331h6v1h-6zM239 331h17v1h-17zM187 332h2v1h-2zM226 332h4v1h-4zM241 332h14v1h-14zM188 333h2v1h-2zM196 333h2v1h-2zM226 333h4v1h-4zM236 333h2v1h-2zM242 333h12v1h-12zM184 334h1v1h-1zM188 334h1v1h-1zM190 334h2v1h-2zM196 334h3v1h-3zM226 334h4v1h-4zM235 334h4v1h-4zM244 334h10v1h-10zM180 335h5v1h-5zM188 335h1v1h-1zM190 335h2v1h-2zM195 335h5v1h-5zM203 335h2v1h-2zM226 335h5v1h-5zM235 335h5v1h-5zM244 335h9v1h-9zM180 336h5v1h-5zM191 336h2v1h-2zM194 336h6v1h-6zM203 336h3v1h-3zM219 336h2v1h-2zM227 336h4v1h-4zM236 336h4v1h-4zM244 336h8v1h-8zM182 337h4v1h-4zM195 337h7v1h-7zM203 337h3v1h-3zM207 337h4v1h-4zM218 337h3v1h-3zM228 337h3v1h-3zM243 337h9v1h-9zM183 338h4v1h-4zM195 338h18v1h-18zM218 338h4v1h-4zM228 338h4v1h-4zM243 338h8v1h-8zM184 339h4v1h-4zM196 339h18v1h-18zM217 339h5v1h-5zM229 339h3v1h-3zM243 339h7v1h-7zM186 340h2v1h-2zM197 340h25v1h-25zM226 340h1v1h-1zM228 340h4v1h-4zM243 340h6v1h-6zM187 341h1v1h-1zM198 341h4v1h-4zM203 341h19v1h-19zM225 341h7v1h-7zM244 341h4v1h-4zM198 342h3v1h-3zM203 342h19v1h-19zM224 342h8v1h-8zM244 342h3v1h-3zM198 343h3v1h-3zM203 343h19v1h-19zM224 343h9v1h-9zM244 343h2v1h-2zM198 344h3v1h-3zM204 344h29v1h-29zM237 344h2v1h-2zM194 345h2v1h-2zM199 345h2v1h-2zM204 345h29v1h-29zM237 345h1v1h-1zM200 346h1v1h-1zM205 346h28v1h-28zM237 346h1v1h-1zM203 347h30v1h-30zM237 347h1v1h-1zM201 348h33v1h-33zM202 349h33v1h-33zM205 350h30v1h-30zM208 351h25v1h-25zM212 352h17v1h-17z" fill="rgb(134,36,48)" transform="scale(3)" shape-rendering="crispEdges"/><path d="M149 125h5v1h-5zM142 126h19v1h-19zM139 127h26v1h-26zM136 128h32v1h-32zM136 129h35v1h-35zM132 130h3v1h-3zM137 130h36v1h-36zM130 131h6v1h-6zM137 131h38v1h-38zM129 132h7v1h-7zM138 132h39v1h-39zM128 133h9v1h-9zM139 133h40v1h-40zM127 134h10v1h-10zM139 134h42v1h-42zM125 135h12v1h-12zM139 135h43v1h-43zM126 136h58v1h-58zM126 137h22v1h-22zM150 137h36v1h-36zM126 138h21v1h-21zM151 138h10v1h-10zM162 138h25v1h-25zM127 139h20v1h-20zM153 139h6v1h-6zM164 139h24v1h-24zM127 140h20v1h-20zM154 140h5v1h-5zM165 140h25v1h-25zM128 141h10v1h-10zM144 141h3v1h-3zM155 141h3v1h-3zM167 141h24v1h-24zM128 142h9v1h-9zM156 142h2v1h-2zM171 142h21v1h-21zM129 143h9v1h-9zM172 143h22v1h-22zM122 144h2v1h-2zM129 144h8v1h-8zM173 144h22v1h-22zM120 145h5v1h-5zM129 145h8v1h-8zM174 145h22v1h-22zM120 146h7v1h-7zM129 146h6v1h-6zM179 146h18v1h-18zM120 147h13v1h-13zM182 147h16v1h-16zM121 148h10v1h-10zM184 148h15v1h-15zM122 149h8v1h-8zM186 149h14v1h-14zM123 150h7v1h-7zM187 150h15v1h-15zM125 151h3v1h-3zM188 151h15v1h-15zM189 152h15v1h-15zM189 153h16v1h-16zM190 154h2v1h-2zM193 154h13v1h-13zM194 155h13v1h-13zM195 156h12v1h-12zM196 157h12v1h-12zM197 158h12v1h-12zM125 159h1v1h-1zM198 159h12v1h-12zM125 160h1v1h-1zM200 160h11v1h-11zM201 161h11v1h-11zM202 162h11v1h-11zM203 163h11v1h-11zM204 164h11v1h-11zM205 165h10v1h-10zM206 166h10v1h-10zM206 167h11v1h-11zM207 168h11v1h-11zM208 169h10v1h-10zM209 170h10v1h-10zM211 171h9v1h-9zM211 172h10v1h-10zM212 173h9v1h-9zM213 174h9v1h-9zM213 175h10v1h-10zM214 176h10v1h-10zM214 177h10v1h-10zM214 178h11v1h-11zM215 179h11v1h-11zM215 180h11v1h-11zM216 181h11v1h-11zM217 182h11v1h-11zM218 183h10v1h-10zM219 184h10v1h-10zM220 185h10v1h-10zM220 186h10v1h-10zM221 187h10v1h-10zM222 188h9v1h-9zM222 189h10v1h-10zM223 190h10v1h-10zM224 191h9v1h-9zM225 192h9v1h-9zM225 193h9v1h-9zM226 194h9v1h-9zM227 195h9v1h-9zM227 196h9v1h-9zM228 197h9v1h-9zM228 198h9v1h-9zM228 199h10v1h-10zM229 200h9v1h-9zM229 201h10v1h-10zM230 202h9v1h-9zM230 203h10v1h-10zM231 204h9v1h-9zM231 205h10v1h-10zM232 206h9v1h-9zM232 207h10v1h-10zM233 208h9v1h-9zM233 209h10v1h-10zM233 210h10v1h-10zM234 211h10v1h-10zM235 212h9v1h-9zM235 213h10v1h-10zM236 214h9v1h-9zM236 215h10v1h-10zM237 216h9v1h-9zM237 217h10v1h-10zM238 218h9v1h-9zM239 219h8v1h-8zM240 220h8v1h-8zM240 221h8v1h-8zM241 222h8v1h-8zM241 223h8v1h-8zM242 224h7v1h-7zM242 225h8v1h-8zM242 226h8v1h-8zM242 227h9v1h-9zM243 228h8v1h-8zM243 229h8v1h-8zM244 230h8v1h-8zM244 231h8v1h-8zM244 232h9v1h-9zM245 233h8v1h-8zM245 234h8v1h-8zM246 235h8v1h-8zM247 236h7v1h-7zM247 237h7v1h-7zM248 238h7v1h-7zM248 239h7v1h-7zM249 240h6v1h-6zM249 241h7v1h-7zM249 242h7v1h-7zM249 243h7v1h-7zM250 244h7v1h-7zM250 245h7v1h-7zM250 246h7v1h-7zM250 247h7v1h-7zM251 248h7v1h-7zM251 249h7v1h-7zM251 250h7v1h-7zM252 251h7v1h-7zM252 252h7v1h-7zM252 253h7v1h-7zM253 254h6v1h-6zM253 255h7v1h-7zM253 256h7v1h-7zM253 257h7v1h-7zM254 258h6v1h-6zM254 259h7v1h-7zM254 260h7v1h-7zM254 261h7v1h-7zM254 262h7v1h-7zM254 263h8v1h-8zM254 264h8v1h-8zM255 265h7v1h-7zM255 266h7v1h-7zM255 267h7v1h-7zM255 268h8v1h-8zM255 269h8v1h-8zM255 270h8v1h-8zM255 271h8v1h-8zM255 272h8v1h-8zM255 273h9v1h-9zM256 274h8v1h-8zM256 275h8v1h-8zM256 276h8v1h-8zM257 277h7v1h-7zM257 278h7v1h-7zM257 279h8v1h-8zM258 280h7v1h-7zM258 281h7v1h-7zM258 282h7v1h-7zM258 283h7v1h-7zM258 284h7v1h-7zM258 285h7v1h-7zM258 286h8v1h-8zM257 287h9v1h-9zM257 288h9v1h-9zM257 289h9v1h-9zM257 290h9v1h-9zM257 291h9v1h-9zM257 292h9v1h-9zM258 293h8v1h-8zM258 294h8v1h-8zM259 295h7v1h-7zM259 296h7v1h-7zM259 297h7v1h-7zM259 298h7v1h-7zM258 299h8v1h-8zM258 300h7v1h-7zM258 301h7v1h-7zM258 302h7v1h-7zM258 303h7v1h-7zM258 304h7v1h-7zM258 305h7v1h-7zM257 306h7v1h-7zM257 307h7v1h-7zM257 308h7v1h-7zM257 309h7v1h-7zM257 310h7v1h-7zM257 311h6v1h-6zM257 312h6v1h-6zM256 313h7v1h-7zM256 314h7v1h-7zM255 315h7v1h-7zM255 316h7v1h-7zM255 317h7v1h-7zM254 318h7v1h-7zM254 319h7v1h-7zM254 320h7v1h-7zM255 321h5v1h-5zM255 322h5v1h-5zM256 323h3v1h-3zM256 324h3v1h-3zM256 325h3v1h-3zM256 326h2v1h-2zM256 327h2v1h-2zM256 328h1v1h-1zM256 329h1v1h-1zM255 330h1v1h-1zM255 331h1v1h-1z" fill="rgb(120,25,43)" transform="scale(3)" shape-rendering="crispEdges"/></g></g>
<clipPath id="cU"><ellipse cx="558.5" cy="675.6" rx="388.4" ry="199.8" transform="rotate(-110.90 558.5 675.6)" /><ellipse cx="557.8" cy="756.2" rx="384.5" ry="199.7" transform="rotate(-111.40 557.8 756.2)" /></clipPath>
<g clip-path="url(#cU)"><path d="M98.7,245.4 L126.8,978 M234.5,200.4 L255,929 M367.2,156.8 L379,880 M496,115 L505,830 M622.7,73 L626,780 M704.8,96.8 L700,810 M803,154 L791.3,869 M904.1,211.2 L885.4,940 M1008.6,271.2 L983.5,1008 M1116.2,334 L1084.3,1076.5 M45,606.3 L621,400.7 M60,944 L626,723 M668.6,403.5 L1142,700.8 M655,724.5 L1126.4,1042.2 M114.5,1073.6 L669,854 M201.7,1143.9 L762,915 M294.4,1216.7 L857.4,979.4 M386.2,1290.5 L955,1046.3 M483.8,1368.6 L1055.4,1117.7 M147.2,1020.4 L588.7,1369 M275.4,970 L718,1310 M398,920.3 L848,1252.6 M518,873 L973.4,1196.8 M638,828 L1096,1142.8 M65.4,618.6 L640,409" stroke="rgb(40,0,25)" stroke-opacity="0.5" stroke-width="2.5" fill="none"/></g>
</g>
<g fill="none" stroke="#000" stroke-width="1.8" stroke-opacity="0.66">
<ellipse cx="290.2" cy="777.1" rx="397.6" ry="190.2" transform="rotate(-111.00 290.2 777.1)" />
<path d="M336.6,424.4 L338.8,416.2 L341.3,408.2 L343.9,400.4 L346.8,392.9 L349.8,385.7 L353.1,378.8 L356.5,372.1 L360.2,365.8 L364.0,359.7 L368.0,353.9 L372.2,348.5 L376.6,343.3 L381.1,338.5 L385.8,333.9 L390.7,329.7 L395.8,325.9 L401.0,322.3 L406.3,319.1 L411.8,316.3 L417.4,313.8 L423.2,311.6 L429.1,309.8 L435.1,308.3 L441.2,307.1 L447.4,306.4 L453.8,305.9 L460.2,305.8 L466.8,306.1 L473.4,306.7 L480.1,307.7 L486.9,309.0 L493.7,310.7 L500.6,312.7 L507.6,315.0 L514.6,317.7 L521.7,320.8 L528.8,324.2 L535.9,327.9 L543.0,331.9 L550.2,336.3 L557.3,341.0 L564.5,346.0 L571.6,351.3 L578.8,356.9 L585.9,362.9 L593.0,369.1 L600.1,375.6 L607.1,382.4 L614.1,389.5 L621.0,396.8 L627.9,404.5 L634.7,412.3 L641.4,420.5 L648.1,428.8 L654.6,437.4 L661.1,446.3 L667.5,455.3 L673.8,464.6 L679.9,474.0 L686.0,483.7 L691.9,493.5 L697.7,503.5 L703.4,513.7 L708.9,524.0 L714.3,534.5 L719.6,545.1 L724.6,555.8 L729.6,566.6 L734.3,577.6 L738.9,588.6 L743.4,599.7 L747.6,610.9 L751.7,622.1 L755.6,633.4 L759.3,644.8 L762.8,656.1 L766.1,667.5 L769.3,678.9 L772.2,690.3 L774.9,701.7 L777.4,713.1 L779.7,724.4 L781.8,735.6 L783.7,746.9 L785.4,758.0 L786.8,769.1 L788.1,780.1 L789.1,790.9 L789.9,801.7 L790.5,812.4 L790.8,822.9 L791.0,833.3 L790.9,843.5 L790.6,853.6 L790.1,863.5 L789.3,873.2 L788.4,882.7 L787.2,892.1 L785.8,901.2 L784.2,910.1 L782.3,918.8 L780.3,927.3 L778.0,935.5 L775.6,943.5 L772.9,951.2 L770.1,958.7 L767.0,965.9 L763.7,972.8 L760.3,979.4 L756.6,985.8 L752.8,991.8 L748.7,997.6 L744.5,1003.0 L740.2,1008.2 L735.6,1013.0 L730.9,1017.5 L726.0,1021.7 L720.9,1025.5 L715.7,1029.1 L710.4,1032.2 L704.9,1035.1 L699.3,1037.6 L693.5,1039.7 L687.6,1041.5 L681.6,1043.0 L675.4,1044.1 L669.2,1044.9 L662.8,1045.3 L656.4,1045.4 L649.9,1045.1 L643.2,1044.4 L636.5,1043.4 L629.7,1042.1 L622.9,1040.4 L616.0,1038.4 L609.0,1036.0 L602.0,1033.3 L594.9,1030.2 L587.8,1026.8 L580.7,1023.1 L573.6,1019.0 L566.4,1014.7 L559.3,1009.9 L552.1,1004.9 L544.9,999.6 L537.8,993.9 L530.7,988.0 L523.6,981.7 L516.5,975.2 L509.5,968.4 L502.5,961.3 L495.6,953.9 L488.7,946.3 L481.9,938.4 L475.2,930.2 L468.5,921.9 L462.0,913.2 L455.5,904.4 L449.1,895.3"/>
<path d="M449.1,895.3 L447.4,892.8 L445.6,890.1 L443.8,887.5 L442.1,884.9 L440.3,882.2 L438.6,879.5 L436.9,876.8 L435.1,874.1 L433.4,871.4 L431.7,868.7 L430.0,865.9 L428.4,863.2 L426.7,860.4 L425.0,857.6 L423.4,854.8 L421.7,852.0 L420.1,849.1 L418.5,846.3 L416.9,843.4 L415.3,840.6 L413.7,837.7 L412.1,834.8 L410.5,831.9 L409.0,828.9 L407.5,826.0 L405.9,823.1 L404.4,820.1 L402.9,817.1 L401.4,814.2 L399.9,811.2 L398.4,808.2 L397.0,805.2 L395.5,802.2 L394.1,799.1 L392.7,796.1 L391.3,793.1 L389.9,790.0 L388.5,786.9 L387.1,783.9 L385.7,780.8 L384.4,777.7 L383.1,774.6 L381.7,771.5 L380.4,768.4 L379.1,765.3 L377.9,762.1 L376.6,759.0 L375.4,755.9 L374.1,752.7 L372.9,749.6 L371.7,746.4 L370.5,743.3 L369.3,740.1 L368.1,736.9 L367.0,733.8 L365.8,730.6 L364.7,727.4 L363.6,724.2 L362.5,721.0 L361.4,717.8 L360.4,714.6 L359.3,711.4 L358.3,708.2 L357.3,705.0 L356.3,701.8 L355.3,698.6 L354.3,695.4 L353.3,692.2 L352.4,689.0 L351.5,685.8 L350.6,682.5 L349.7,679.3 L348.8,676.1 L347.9,672.9 L347.1,669.7 L346.2,666.5 L345.4,663.3 L344.6,660.0 L343.8,656.8 L343.1,653.6 L342.3,650.4 L341.6,647.2 L340.9,644.0 L340.2,640.8 L339.5,637.6 L338.8,634.4 L338.2,631.2 L337.5,628.0 L336.9,624.8 L336.3,621.6 L335.7,618.5 L335.1,615.3 L334.6,612.1 L334.1,608.9 L333.5,605.8 L333.0,602.6 L332.6,599.5 L332.1,596.3 L331.6,593.2 L331.2,590.1 L330.8,586.9 L330.4,583.8 L330.0,580.7 L329.6,577.6 L329.3,574.5 L329.0,571.4 L328.7,568.3 L328.4,565.2 L328.1,562.2 L327.8,559.1 L327.6,556.1 L327.4,553.0 L327.2,550.0 L327.0,547.0 L326.8,544.0 L326.6,541.0 L326.5,538.0 L326.4,535.0 L326.3,532.0 L326.2,529.1 L326.1,526.1 L326.1,523.2 L326.1,520.3 L326.0,517.4 L326.0,514.5 L326.1,511.6 L326.1,508.7 L326.2,505.8 L326.2,503.0 L326.3,500.1 L326.4,497.3 L326.6,494.5 L326.7,491.7 L326.9,488.9 L327.1,486.2 L327.2,483.4 L327.5,480.7 L327.7,477.9 L327.9,475.2 L328.2,472.5 L328.5,469.8 L328.8,467.2 L329.1,464.5 L329.5,461.9 L329.8,459.3 L330.2,456.7 L330.6,454.1 L331.0,451.5 L331.4,449.0 L331.8,446.4 L332.3,443.9 L332.8,441.4 L333.3,439.0 L333.8,436.5 L334.3,434.0 L334.8,431.6 L335.4,429.2 L336.0,426.8 L336.6,424.5" stroke-opacity="0.22"/>
<ellipse cx="877.8" cy="553.6" rx="376.0" ry="210.0" transform="rotate(-110.80 877.8 553.6)" stroke-opacity="0.4"/>
<path d="M272.6,430.8 L876.3,221"/>
<path d="M1115.8,711 L518,950"/>
<path d="M862,875 L275,1100"/>
</g>
<path d="M326.0,514.2 L326.1,508.4 L326.2,502.6 L326.5,497.0 L326.7,491.3 L327.1,485.8 L327.5,480.3 L328.0,474.8 L328.5,469.4 L329.2,464.1 L329.9,458.8 L330.6,453.6 L331.5,448.5 L332.4,443.5 L333.4,438.5 L334.4,433.6 L335.5,428.7 L336.7,423.9 L337.9,419.3 L339.3,414.6 L340.6,410.1 L342.1,405.7 L343.6,401.3 L345.2,397.0 L346.8,392.8 L348.5,388.7 L350.3,384.7 L352.1,380.7 L354.0,376.9 L356.0,373.1 L358.0,369.4 L360.1,365.9 L362.3,362.4 L364.5,359.0 L366.7,355.7 L369.0,352.5 L371.4,349.4 L373.9,346.5 L376.4,343.6 L378.9,340.8 L381.5,338.1 L384.2,335.5 L386.9,333.0 L389.6,330.6 L392.4,328.4 L395.3,326.2 L398.2,324.1 L401.2,322.2 L404.2,320.3 L407.3,318.6 L410.4,317.0 L413.5,315.5 L416.7,314.1 L419.9,312.8 L423.2,311.6 L747.7,200.9 L751.2,199.7 L754.7,198.7 L758.3,197.8 L761.9,196.9 L765.5,196.2 L769.2,195.6 L772.9,195.1 L776.6,194.8 L780.4,194.5 L784.2,194.3 L788.0,194.3 L791.9,194.3 L795.7,194.5 L799.6,194.8 L803.6,195.2 L807.5,195.7 L811.5,196.3 L815.5,197.0 L819.5,197.8 L823.5,198.7 L827.5,199.8 L831.6,200.9 L835.7,202.2 L839.8,203.5 L843.9,205.0 L848.0,206.6 L852.1,208.2 L856.2,210.0 L860.3,211.9 L864.5,213.9 L868.6,216.0 L872.7,218.2 L876.9,220.5 L881.0,222.9 L885.2,225.4 L889.3,228.0 L893.4,230.7 L897.6,233.5 L901.7,236.4 L905.8,239.4 L909.9,242.5 L914.0,245.7 L918.1,249.0 L922.2,252.3 L926.3,255.8 L930.3,259.3 L934.3,263.0 L938.4,266.7 L942.4,270.5 L946.3,274.4 L950.3,278.4 L954.2,282.5 L958.1,286.7 L962.0,290.9 L965.9,295.2 L969.7,299.6 L973.5,304.1 L977.3,308.6 L981.1,313.3 L984.8,318.0 L988.5,322.7 L992.1,327.6 L995.7,332.5 L999.3,337.5 L1002.8,342.5 L1006.3,347.6 L1009.8,352.8 L1013.2,358.0 L1016.6,363.3 L1019.9,368.7 L1023.2,374.1 L1026.5,379.5 L1029.7,385.0 L1032.9,390.6 L1036.0,396.2 L1039.0,401.9 L1042.1,407.6 L1045.0,413.3 L1047.9,419.1 L1050.8,425.0 L1053.6,430.8 L1056.4,436.7 L1059.1,442.7 L1061.7,448.7 L1064.3,454.7 L1066.9,460.7 L1069.3,466.8 L1071.8,472.9 L1074.1,479.0 L1076.4,485.2 L1078.7,491.3 L1080.8,497.5 L1082.9,503.7 L1085.0,509.9 L1087.0,516.2 L1088.9,522.4 L1090.8,528.7 L1092.6,534.9 L1094.3,541.2 L1096.0,547.5 L1097.6,553.7 L1099.1,560.0 L1100.6,566.3 L1102.0,572.5 L1103.3,578.8 L1104.6,585.1 L1105.8,591.3 L1106.9,597.5 L1107.9,603.7 L1108.9,609.9 L1109.8,616.1 L1110.7,622.3 L1111.4,628.4 L1112.1,634.6 L1112.8,640.7 L1113.3,646.7 L1113.8,652.8 L1114.2,658.8 L1114.6,664.8 L1114.8,670.7 L1115.0,676.6 L1115.2,682.5 L1115.2,688.3 L1115.2,694.1 L1115.1,699.9 L1114.9,705.6 L1114.7,711.2 L1114.4,716.8 L1114.0,722.4 L1113.6,727.9 L1113.0,733.4 L1112.4,738.8 L1111.8,744.1 L1111.0,749.4 L1110.2,754.6 L1109.3,759.8 L1108.4,764.9 L1107.4,770.0 L1106.3,774.9 L1105.1,779.8 L1103.9,784.7 L1102.6,789.4 L1101.2,794.1 L1099.8,798.8 L1098.3,803.3 L1096.7,807.8 L1095.1,812.2 L1093.4,816.5 L1091.6,820.7 L1089.8,824.9 L1087.9,828.9 L1085.9,832.9 L1083.9,836.8 L1081.8,840.6 L1079.6,844.4 L1077.4,848.0 L1075.1,851.6 L1072.8,855.0 L1070.4,858.4 L1068.0,861.7 L1065.4,864.8 L1062.9,867.9 L1060.3,870.9 L1057.6,873.8 L1054.8,876.6 L1052.1,879.3 L1049.2,881.9 L1046.3,884.4 L1043.4,886.8 L1040.4,889.1 L1037.3,891.3 L1034.2,893.4 L1031.1,895.4 L1027.9,897.3 L1024.7,899.0 L1021.4,900.7 L1018.1,902.3 L1014.7,903.7 L700.3,1037.1 L697.1,1038.4 L693.8,1039.6 L690.5,1040.7 L687.1,1041.7 L683.7,1042.5 L680.3,1043.3 L676.8,1043.9 L673.3,1044.4 L669.7,1044.8 L666.2,1045.1 L662.5,1045.3 L658.9,1045.4 L655.2,1045.3 L651.5,1045.2 L647.8,1044.9 L644.0,1044.5 L640.2,1044.0 L636.4,1043.4 L632.6,1042.7 L628.7,1041.9 L624.9,1040.9 L621.0,1039.9 L617.0,1038.7 L613.1,1037.5 L609.2,1036.1 L605.2,1034.6 L601.2,1033.0 L597.2,1031.3 L593.2,1029.4 L589.2,1027.5 L585.2,1025.5 L581.1,1023.3 L577.1,1021.1 L573.0,1018.7 L569.0,1016.3 L564.9,1013.7 L560.9,1011.0 L556.8,1008.3 L552.8,1005.4 L548.7,1002.4 L544.7,999.4 L540.6,996.2 L536.6,992.9 L532.5,989.6 L528.5,986.1 L524.5,982.6 L520.5,978.9 L516.5,975.2 L512.5,971.4 L508.5,967.4 L504.6,963.4 L500.6,959.3 L496.7,955.2 L492.8,950.9 L488.9,946.5 L485.1,942.1 L481.2,937.6 L477.4,933.0 L473.6,928.3 L469.9,923.6 L466.1,918.7 L462.4,913.9 L458.7,908.9 L455.1,903.8 L451.5,898.7 L447.9,893.5 L444.3,888.3 L440.8,883.0 L437.3,877.6 L433.9,872.2 L430.5,866.7 L427.1,861.1 L423.8,855.5 L420.5,849.8 L417.3,844.1 L414.1,838.4 L410.9,832.5 L407.8,826.7 L404.7,820.8 L401.7,814.8 L398.7,808.8 L395.8,802.8 L392.9,796.7 L390.1,790.6 L387.4,784.4 L384.6,778.2 L382.0,772.0 L379.4,765.8 L376.8,759.5 L374.3,753.2 L371.8,746.9 L369.5,740.5 L367.1,734.2 L364.9,727.8 L362.6,721.4 L360.5,715.0 L358.4,708.6 L356.4,702.1 L354.4,695.7 L352.5,689.2 L350.6,682.8 L348.8,676.3 L347.1,669.9 L345.5,663.4 L343.9,657.0 L342.3,650.5 L340.9,644.1 L339.5,637.7 L338.2,631.3 L336.9,624.9 L335.7,618.5 L334.6,612.1 L333.5,605.8 L332.5,599.4 L331.6,593.1 L330.8,586.9 L330.0,580.6 L329.3,574.4 L328.6,568.2 L328.1,562.0 L327.6,555.9 L327.1,549.8 L326.8,543.8 L326.5,537.8 L326.3,531.8 L326.1,525.9 L326.1,520.0Z" fill="none" stroke="#1a1a50" stroke-width="1.5" stroke-opacity="0"/>
<text transform="translate(1309.41 766.20) scale(1.0833 1)" font-family="'DejaVu Sans', 'Liberation Sans', sans-serif" font-weight="normal" font-size="37.86" fill="#000" stroke="#fff" stroke-width="0.5">mm</text>
<linearGradient id="gCB" x1="0" y1="0" x2="0" y2="1"><stop offset="0.0000" stop-color="rgb(125,0,0)"/><stop offset="0.0250" stop-color="rgb(140,0,0)"/><stop offset="0.0583" stop-color="rgb(165,0,0)"/><stop offset="0.0833" stop-color="rgb(192,4,0)"/><stop offset="0.1167" stop-color="rgb(212,18,0)"/><stop offset="0.1500" stop-color="rgb(225,32,0)"/><stop offset="0.1667" stop-color="rgb(229,42,0)"/><stop offset="0.2083" stop-color="rgb(235,75,0)"/><stop offset="0.2500" stop-color="rgb(236,120,0)"/><stop offset="0.2917" stop-color="rgb(235,170,0)"/><stop offset="0.3333" stop-color="rgb(232,205,5)"/><stop offset="0.3750" stop-color="rgb(220,235,25)"/><stop offset="0.4167" stop-color="rgb(195,250,50)"/><stop offset="0.4583" stop-color="rgb(160,255,80)"/><stop offset="0.5000" stop-color="rgb(125,250,125)"/><stop offset="0.5417" stop-color="rgb(95,250,165)"/><stop offset="0.5833" stop-color="rgb(75,245,205)"/><stop offset="0.6250" stop-color="rgb(65,235,235)"/><stop offset="0.6667" stop-color="rgb(55,210,250)"/><stop offset="0.7083" stop-color="rgb(52,180,250)"/><stop offset="0.7500" stop-color="rgb(50,150,252)"/><stop offset="0.7917" stop-color="rgb(50,120,255)"/><stop offset="0.8333" stop-color="rgb(48,90,250)"/><stop offset="0.8750" stop-color="rgb(47,70,240)"/><stop offset="0.9167" stop-color="rgb(45,50,225)"/><stop offset="0.9583" stop-color="rgb(38,38,180)"/><stop offset="1.0000" stop-color="rgb(26,26,135)"/></linearGradient>
<rect x="1307" y="53" width="66" height="1299" fill="url(#gCB)" stroke="#0a0a0a" stroke-opacity="0.88" stroke-width="4.6"/>
<path d="M1306,49.8 H1374" stroke="#888" stroke-width="1.6" fill="none"/>
<path d="M1307,269.5 h14 M1373,269.5 h-14" stroke="#0a0a0a" stroke-width="4.6"/>
<path d="M1307,486 h14 M1373,486 h-14" stroke="#0a0a0a" stroke-width="4.6"/>
<path d="M1307,702.5 h14 M1373,702.5 h-14" stroke="#0a0a0a" stroke-width="4.6"/>
<path d="M1307,919 h14 M1373,919 h-14" stroke="#0a0a0a" stroke-width="4.6"/>
<path d="M1307,1135.5 h14 M1373,1135.5 h-14" stroke="#0a0a0a" stroke-width="4.6"/>

<text transform="translate(42.14 1143.97) scale(1.0793 1)" font-family="'DejaVu Sans', 'Liberation Sans', sans-serif" font-weight="normal" font-size="43.16" fill="#000" stroke="#fff" stroke-width="0.5">40</text>
<text transform="translate(130.55 1215.27) scale(1.0740 1)" font-family="'DejaVu Sans', 'Liberation Sans', sans-serif" font-weight="normal" font-size="43.29" fill="#000" stroke="#fff" stroke-width="0.5">20</text>
<text transform="translate(243.58 1288.67) scale(1.0463 1)" font-family="'DejaVu Sans', 'Liberation Sans', sans-serif" font-weight="normal" font-size="43.29" fill="#000" stroke="#fff" stroke-width="0.5">0</text>
<text transform="translate(302.35 1363.36) scale(1.0390 1)" font-family="'DejaVu Sans', 'Liberation Sans', sans-serif" font-weight="normal" font-size="44.47" fill="#000" stroke="#fff" stroke-width="0.5">-20</text>
<text transform="translate(399.97 1441.46) scale(1.0379 1)" font-family="'DejaVu Sans', 'Liberation Sans', sans-serif" font-weight="normal" font-size="44.08" fill="#000" stroke="#fff" stroke-width="0.5">-40</text>
<text transform="translate(134.80 1379.90) scale(1.0131 1)" font-family="'DejaVu Sans', 'Liberation Sans', sans-serif" font-weight="normal" font-size="40.54" fill="#000" stroke="#fff" stroke-width="0.5">mm</text>
<text transform="translate(588.24 1445.17) scale(1.0849 1)" font-family="'DejaVu Sans', 'Liberation Sans', sans-serif" font-weight="normal" font-size="42.89" fill="#000" stroke="#fff" stroke-width="0.5">-80</text>
<text transform="translate(720.06 1386.66) scale(1.0439 1)" font-family="'DejaVu Sans', 'Liberation Sans', sans-serif" font-weight="normal" font-size="44.08" fill="#000" stroke="#fff" stroke-width="0.5">-60</text>
<text transform="translate(848.08 1329.37) scale(1.0461 1)" font-family="'DejaVu Sans', 'Liberation Sans', sans-serif" font-weight="normal" font-size="43.42" fill="#000" stroke="#fff" stroke-width="0.5">-40</text>
<text transform="translate(973.78 1273.96) scale(1.0289 1)" font-family="'DejaVu Sans', 'Liberation Sans', sans-serif" font-weight="normal" font-size="44.21" fill="#000" stroke="#fff" stroke-width="0.5">-20</text>
<text transform="translate(1107.68 1219.67) scale(1.1336 1)" font-family="'DejaVu Sans', 'Liberation Sans', sans-serif" font-weight="normal" font-size="42.89" fill="#000" stroke="#fff" stroke-width="0.5">0</text>
<text transform="translate(865.71 1445.20) scale(0.9731 1)" font-family="'DejaVu Sans', 'Liberation Sans', sans-serif" font-weight="normal" font-size="42.14" fill="#000" stroke="#fff" stroke-width="0.5">mm</text>
<text transform="translate(1189.97 721.58) scale(0.9981 1)" font-family="'DejaVu Sans', 'Liberation Sans', sans-serif" font-weight="normal" font-size="42.24" fill="#000" stroke="#fff" stroke-width="0.5">0</text>
<text transform="translate(1174.36 1065.17) scale(1.0631 1)" font-family="'DejaVu Sans', 'Liberation Sans', sans-serif" font-weight="normal" font-size="43.16" fill="#000" stroke="#fff" stroke-width="0.5">-50</text>
<text transform="translate(1403.41 71.10) scale(1.0419 1)" font-family="'DejaVu Sans', 'Liberation Sans', sans-serif" font-weight="normal" font-size="44.40" fill="#000" stroke="#fff" stroke-width="0.5">12</text>
<text transform="translate(1463.88 66.16) scale(1.0097 1)" font-family="'Liberation Serif', serif" font-weight="normal" font-size="52.56" fill="#000" stroke="#fff" stroke-width="0.5"><tspan font-weight="normal">(</tspan><tspan font-weight="bold">mm</tspan><tspan font-weight="normal">)</tspan></text>
<text transform="translate(1403.44 287.15) scale(1.0282 1)" font-family="'DejaVu Sans', 'Liberation Sans', sans-serif" font-weight="normal" font-size="44.74" fill="#000" stroke="#fff" stroke-width="0.5">10</text>
<text transform="translate(1405.81 502.26) scale(1.0310 1)" font-family="'DejaVu Sans', 'Liberation Sans', sans-serif" font-weight="normal" font-size="43.55" fill="#000" stroke="#fff" stroke-width="0.5">8</text>
<text transform="translate(1405.36 718.96) scale(1.0248 1)" font-family="'DejaVu Sans', 'Liberation Sans', sans-serif" font-weight="normal" font-size="43.82" fill="#000" stroke="#fff" stroke-width="0.5">6</text>
<text transform="translate(1405.30 935.20) scale(1.0234 1)" font-family="'DejaVu Sans', 'Liberation Sans', sans-serif" font-weight="normal" font-size="43.97" fill="#000" stroke="#fff" stroke-width="0.5">4</text>
<text transform="translate(1405.33 1151.70) scale(1.0655 1)" font-family="'DejaVu Sans', 'Liberation Sans', sans-serif" font-weight="normal" font-size="42.53" fill="#000" stroke="#fff" stroke-width="0.5">2</text>
<text transform="translate(1405.78 1367.76) scale(1.0400 1)" font-family="'DejaVu Sans', 'Liberation Sans', sans-serif" font-weight="normal" font-size="43.55" fill="#000" stroke="#fff" stroke-width="0.5">0</text>
</g>
</svg>
</body></html>
